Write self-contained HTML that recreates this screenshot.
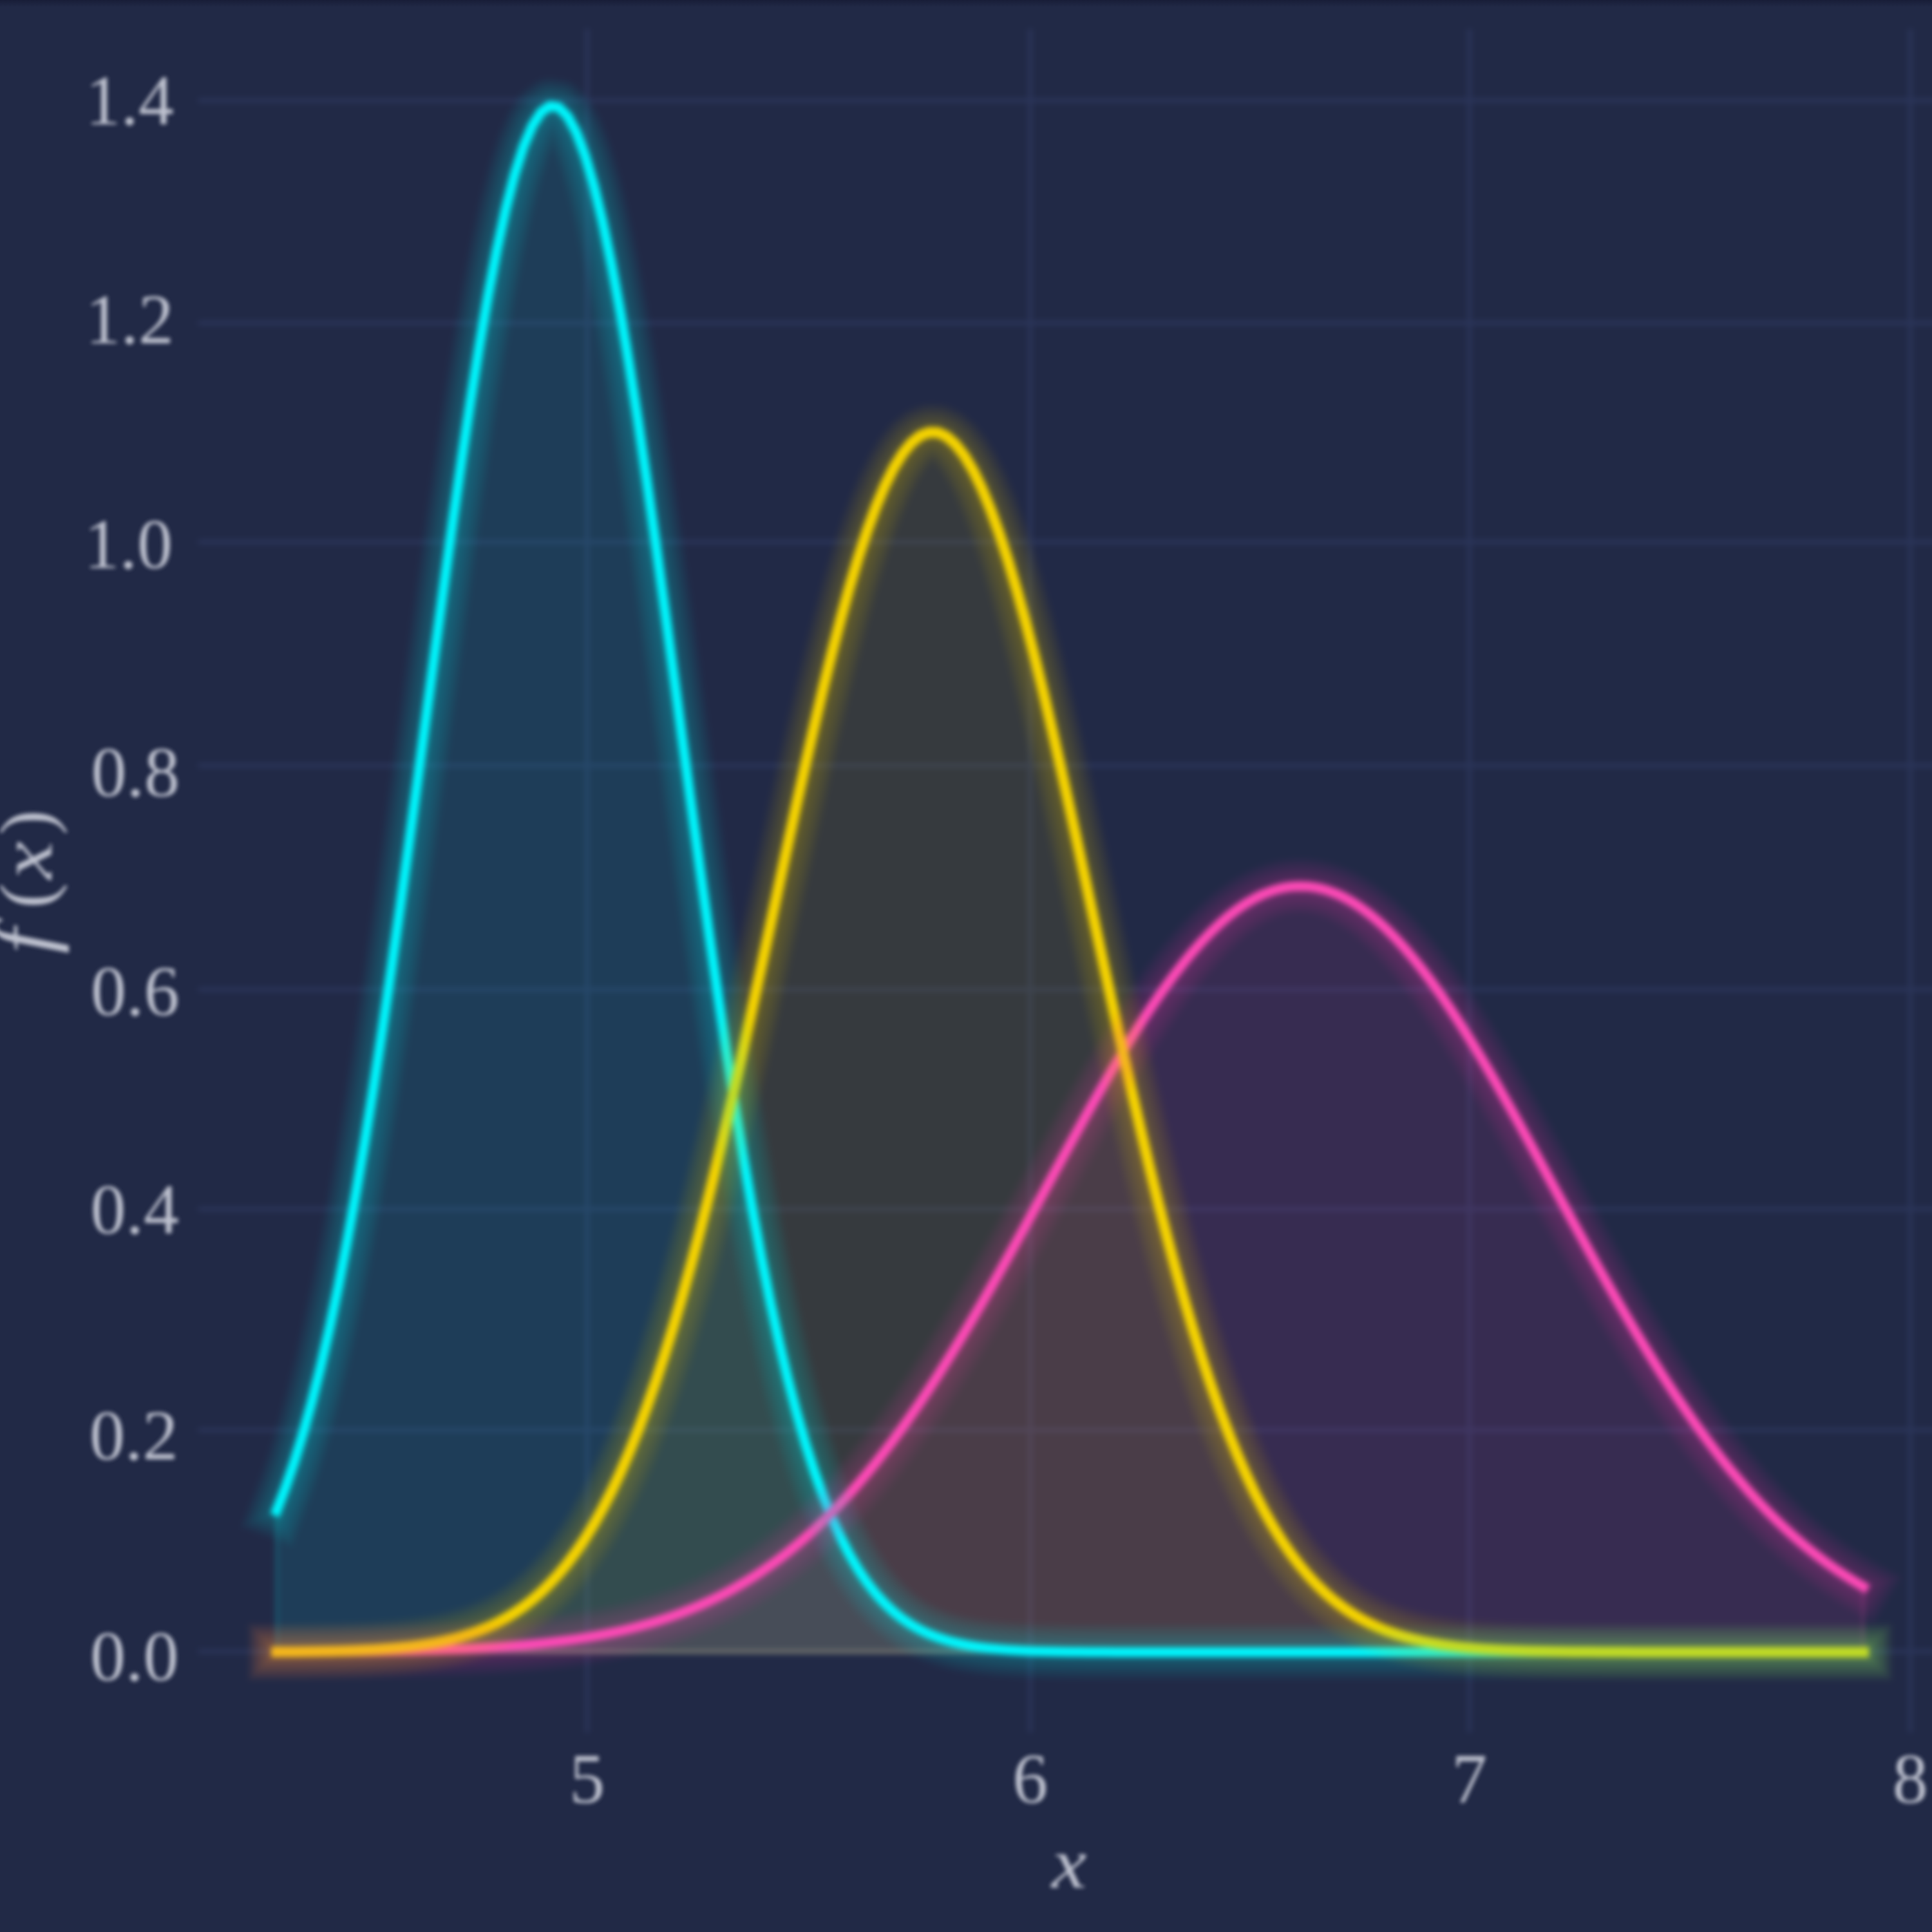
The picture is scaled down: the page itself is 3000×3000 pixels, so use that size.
<!DOCTYPE html>
<html><head><meta charset="utf-8"><title>chart</title>
<style>
html,body{margin:0;padding:0;background:#212946;}
body{width:3000px;height:3000px;overflow:hidden;position:relative;font-family:"Liberation Serif",serif;}
svg{position:absolute;left:0;top:0;display:block;}
text{font-family:"Liberation Serif",serif;fill:#cdd0dc;}
</style></head><body>
<svg width="3000" height="3000" viewBox="0 0 3000 3000">
<defs>
<filter id="soft" color-interpolation-filters="sRGB" filterUnits="userSpaceOnUse" x="-100" y="-100" width="3200" height="3200"><feGaussianBlur stdDeviation="4" color-interpolation-filters="sRGB"/></filter>
<filter id="softt" color-interpolation-filters="sRGB" filterUnits="userSpaceOnUse" x="-100" y="-100" width="3200" height="3200"><feGaussianBlur stdDeviation="3" color-interpolation-filters="sRGB"/></filter>
<linearGradient id="topband" x1="0" y1="0" x2="0" y2="1"><stop offset="0" stop-color="#171c36" stop-opacity="0.9"/><stop offset="1" stop-color="#171c36" stop-opacity="0"/></linearGradient>

</defs>
<rect x="-100" y="-100" width="3200" height="3200" fill="#212946"/>
<g filter="url(#soft)">
<rect x="-100" y="-100" width="3200" height="3200" fill="#212946"/>
<g stroke="#2a3458" stroke-width="7" fill="none">
<line x1="308" y1="2564.3" x2="3100" y2="2564.3"/>
<line x1="308" y1="2220.4" x2="3100" y2="2220.4"/>
<line x1="308" y1="1877.5" x2="3100" y2="1877.5"/>
<line x1="308" y1="1536.5" x2="3100" y2="1536.5"/>
<line x1="308" y1="1188.7" x2="3100" y2="1188.7"/>
<line x1="308" y1="841.5" x2="3100" y2="841.5"/>
<line x1="308" y1="501.5" x2="3100" y2="501.5"/>
<line x1="308" y1="155.9" x2="3100" y2="155.9"/>
<line x1="911.8" y1="45" x2="911.8" y2="2690"/>
<line x1="1599.7" y1="45" x2="1599.7" y2="2690"/>
<line x1="2281.8" y1="45" x2="2281.8" y2="2690"/>
<line x1="2966.3" y1="45" x2="2966.3" y2="2690"/>
</g>
<path d="M429.4,2346.0 L443.1,2310.4 L456.8,2270.5 L470.5,2225.9 L484.2,2176.6 L497.9,2122.2 L511.6,2062.7 L525.3,1998.0 L538.9,1928.1 L552.6,1853.1 L566.3,1773.1 L580.0,1688.4 L593.7,1599.3 L607.4,1506.4 L621.1,1410.3 L634.8,1311.5 L648.5,1210.9 L662.2,1109.3 L675.9,1007.8 L689.6,907.2 L703.2,808.8 L716.9,713.6 L730.6,622.7 L744.3,537.2 L758.0,458.3 L771.7,387.0 L785.4,324.3 L799.1,270.9 L812.8,227.7 L826.5,195.3 L840.2,174.1 L853.8,164.4 L867.5,166.5 L881.2,180.2 L894.9,205.4 L908.6,241.6 L922.3,288.5 L936.0,345.2 L949.7,411.1 L963.4,485.1 L977.1,566.4 L990.8,653.9 L1004.4,746.5 L1018.1,842.9 L1031.8,942.2 L1045.5,1043.2 L1059.2,1144.9 L1072.9,1246.2 L1086.6,1346.3 L1100.3,1444.3 L1114.0,1539.4 L1127.7,1631.0 L1141.4,1718.5 L1155.1,1801.6 L1168.7,1879.9 L1182.4,1953.2 L1196.1,2021.3 L1209.8,2084.2 L1223.5,2141.8 L1237.2,2194.4 L1250.9,2242.1 L1264.6,2284.9 L1278.3,2323.3 L1292.0,2357.5 L1305.7,2387.7 L1319.3,2414.3 L1333.0,2437.5 L1346.7,2457.7 L1360.4,2475.1 L1374.1,2490.1 L1387.8,2502.9 L1401.5,2513.8 L1415.2,2523.0 L1428.9,2530.7 L1442.6,2537.2 L1456.3,2542.6 L1469.9,2547.0 L1483.6,2550.7 L1497.3,2553.7 L1511.0,2556.1 L1524.7,2558.1 L1538.4,2559.6 L1552.1,2560.9 L1565.8,2561.9 L1579.5,2562.7 L1593.2,2563.4 L1606.9,2563.9 L1620.6,2564.2 L1634.2,2564.5 L1647.9,2564.8 L1661.6,2565.0 L1675.3,2565.1 L1689.0,2565.2 L1702.7,2565.3 L1716.4,2565.3 L1730.1,2565.4 L1743.8,2565.4 L1757.5,2565.4 L1771.2,2565.5 L1784.8,2565.5 L1798.5,2565.5 L1812.2,2565.5 L1825.9,2565.5 L1839.6,2565.5 L1853.3,2565.5 L1867.0,2565.5 L1880.7,2565.5 L1894.4,2565.5 L1908.1,2565.5 L1921.8,2565.5 L1935.5,2565.5 L1949.1,2565.5 L1962.8,2565.5 L1976.5,2565.5 L1990.2,2565.5 L2003.9,2565.5 L2017.6,2565.5 L2031.3,2565.5 L2045.0,2565.5 L2058.7,2565.5 L2072.4,2565.5 L2086.1,2565.5 L2099.7,2565.5 L2113.4,2565.5 L2127.1,2565.5 L2140.8,2565.5 L2154.5,2565.5 L2168.2,2565.5 L2181.9,2565.5 L2195.6,2565.5 L2209.3,2565.5 L2223.0,2565.5 L2236.7,2565.5 L2250.3,2565.5 L2264.0,2565.5 L2277.7,2565.5 L2291.4,2565.5 L2305.1,2565.5 L2318.8,2565.5 L2332.5,2565.5 L2346.2,2565.5 L2359.9,2565.5 L2373.6,2565.5 L2387.3,2565.5 L2401.0,2565.5 L2414.6,2565.5 L2428.3,2565.5 L2442.0,2565.5 L2455.7,2565.5 L2469.4,2565.5 L2483.1,2565.5 L2496.8,2565.5 L2510.5,2565.5 L2524.2,2565.5 L2537.9,2565.5 L2551.6,2565.5 L2565.2,2565.5 L2578.9,2565.5 L2592.6,2565.5 L2606.3,2565.5 L2620.0,2565.5 L2633.7,2565.5 L2647.4,2565.5 L2661.1,2565.5 L2674.8,2565.5 L2688.5,2565.5 L2702.2,2565.5 L2715.8,2565.5 L2729.5,2565.5 L2743.2,2565.5 L2756.9,2565.5 L2770.6,2565.5 L2784.3,2565.5 L2798.0,2565.5 L2811.7,2565.5 L2825.4,2565.5 L2839.1,2565.5 L2852.8,2565.5 L2866.5,2565.5 L2880.1,2565.5 L2893.8,2565.5 L2893.8,2565.5 L429.4,2565.5 Z" fill="#08F7FE" fill-opacity="0.1" stroke="#08F7FE" stroke-opacity="0.13" stroke-width="7"/>
<path d="M429.4,2565.1 L443.1,2565.1 L456.8,2565.0 L470.5,2565.0 L484.2,2564.9 L497.9,2564.8 L511.6,2564.7 L525.3,2564.6 L538.9,2564.5 L552.6,2564.3 L566.3,2564.2 L580.0,2564.0 L593.7,2563.8 L607.4,2563.5 L621.1,2563.3 L634.8,2563.0 L648.5,2562.7 L662.2,2562.3 L675.9,2561.9 L689.6,2561.5 L703.2,2561.0 L716.9,2560.4 L730.6,2559.8 L744.3,2559.1 L758.0,2558.3 L771.7,2557.5 L785.4,2556.6 L799.1,2555.6 L812.8,2554.5 L826.5,2553.2 L840.2,2551.9 L853.8,2550.4 L867.5,2548.8 L881.2,2547.0 L894.9,2545.1 L908.6,2542.9 L922.3,2540.6 L936.0,2538.1 L949.7,2535.4 L963.4,2532.5 L977.1,2529.3 L990.8,2525.8 L1004.4,2522.1 L1018.1,2518.0 L1031.8,2513.7 L1045.5,2509.0 L1059.2,2504.0 L1072.9,2498.6 L1086.6,2492.9 L1100.3,2486.7 L1114.0,2480.1 L1127.7,2473.1 L1141.4,2465.6 L1155.1,2457.6 L1168.7,2449.2 L1182.4,2440.2 L1196.1,2430.7 L1209.8,2420.7 L1223.5,2410.1 L1237.2,2398.9 L1250.9,2387.1 L1264.6,2374.8 L1278.3,2361.8 L1292.0,2348.2 L1305.7,2333.9 L1319.3,2319.1 L1333.0,2303.6 L1346.7,2287.4 L1360.4,2270.7 L1374.1,2253.2 L1387.8,2235.2 L1401.5,2216.5 L1415.2,2197.2 L1428.9,2177.4 L1442.6,2156.9 L1456.3,2135.9 L1469.9,2114.3 L1483.6,2092.3 L1497.3,2069.7 L1511.0,2046.7 L1524.7,2023.3 L1538.4,1999.5 L1552.1,1975.4 L1565.8,1951.0 L1579.5,1926.4 L1593.2,1901.6 L1606.9,1876.6 L1620.6,1851.6 L1634.2,1826.5 L1647.9,1801.5 L1661.6,1776.6 L1675.3,1751.9 L1689.0,1727.4 L1702.7,1703.2 L1716.4,1679.4 L1730.1,1656.0 L1743.8,1633.1 L1757.5,1610.8 L1771.2,1589.1 L1784.8,1568.2 L1798.5,1548.0 L1812.2,1528.7 L1825.9,1510.3 L1839.6,1492.8 L1853.3,1476.4 L1867.0,1461.1 L1880.7,1446.9 L1894.4,1433.8 L1908.1,1422.0 L1921.8,1411.5 L1935.5,1402.3 L1949.1,1394.4 L1962.8,1387.9 L1976.5,1382.7 L1990.2,1379.0 L2003.9,1376.7 L2017.6,1375.9 L2031.3,1376.4 L2045.0,1378.4 L2058.7,1381.8 L2072.4,1386.7 L2086.1,1392.9 L2099.7,1400.5 L2113.4,1409.5 L2127.1,1419.7 L2140.8,1431.3 L2154.5,1444.0 L2168.2,1458.0 L2181.9,1473.1 L2195.6,1489.3 L2209.3,1506.5 L2223.0,1524.8 L2236.7,1543.9 L2250.3,1563.9 L2264.0,1584.7 L2277.7,1606.2 L2291.4,1628.4 L2305.1,1651.1 L2318.8,1674.4 L2332.5,1698.2 L2346.2,1722.3 L2359.9,1746.7 L2373.6,1771.4 L2387.3,1796.3 L2401.0,1821.3 L2414.6,1846.3 L2428.3,1871.4 L2442.0,1896.3 L2455.7,1921.2 L2469.4,1945.9 L2483.1,1970.3 L2496.8,1994.5 L2510.5,2018.4 L2524.2,2041.8 L2537.9,2064.9 L2551.6,2087.6 L2565.2,2109.7 L2578.9,2131.4 L2592.6,2152.5 L2606.3,2173.1 L2620.0,2193.1 L2633.7,2212.5 L2647.4,2231.3 L2661.1,2249.5 L2674.8,2267.1 L2688.5,2284.0 L2702.2,2300.2 L2715.8,2315.9 L2729.5,2330.9 L2743.2,2345.2 L2756.9,2359.0 L2770.6,2372.1 L2784.3,2384.6 L2798.0,2396.5 L2811.7,2407.8 L2825.4,2418.5 L2839.1,2428.7 L2852.8,2438.3 L2866.5,2447.3 L2880.1,2455.9 L2893.8,2464.0 L2893.8,2565.5 L429.4,2565.5 Z" fill="#FE53BB" fill-opacity="0.1" stroke="#FE53BB" stroke-opacity="0.13" stroke-width="7"/>
<path d="M429.4,2565.1 L443.1,2565.0 L456.8,2564.9 L470.5,2564.7 L484.2,2564.5 L497.9,2564.3 L511.6,2564.0 L525.3,2563.7 L538.9,2563.2 L552.6,2562.7 L566.3,2562.1 L580.0,2561.4 L593.7,2560.5 L607.4,2559.5 L621.1,2558.3 L634.8,2556.9 L648.5,2555.1 L662.2,2553.1 L675.9,2550.8 L689.6,2548.1 L703.2,2544.9 L716.9,2541.2 L730.6,2536.9 L744.3,2532.0 L758.0,2526.4 L771.7,2520.0 L785.4,2512.6 L799.1,2504.3 L812.8,2494.9 L826.5,2484.2 L840.2,2472.3 L853.8,2458.9 L867.5,2444.0 L881.2,2427.4 L894.9,2409.0 L908.6,2388.8 L922.3,2366.5 L936.0,2342.0 L949.7,2315.4 L963.4,2286.4 L977.1,2255.0 L990.8,2221.1 L1004.4,2184.7 L1018.1,2145.7 L1031.8,2104.2 L1045.5,2060.0 L1059.2,2013.4 L1072.9,1964.3 L1086.6,1912.8 L1100.3,1859.0 L1114.0,1803.2 L1127.7,1745.4 L1141.4,1686.0 L1155.1,1625.1 L1168.7,1563.1 L1182.4,1500.2 L1196.1,1436.9 L1209.8,1373.4 L1223.5,1310.2 L1237.2,1247.6 L1250.9,1186.2 L1264.6,1126.3 L1278.3,1068.4 L1292.0,1012.9 L1305.7,960.3 L1319.3,910.9 L1333.0,865.2 L1346.7,823.6 L1360.4,786.3 L1374.1,753.9 L1387.8,726.4 L1401.5,704.3 L1415.2,687.6 L1428.9,676.5 L1442.6,671.2 L1456.3,671.6 L1469.9,677.8 L1483.6,689.7 L1497.3,707.3 L1511.0,730.2 L1524.7,758.4 L1538.4,791.6 L1552.1,829.5 L1565.8,871.8 L1579.5,918.1 L1593.2,968.0 L1606.9,1021.1 L1620.6,1077.0 L1634.2,1135.2 L1647.9,1195.3 L1661.6,1257.0 L1675.3,1319.6 L1689.0,1382.9 L1702.7,1446.4 L1716.4,1509.7 L1730.1,1572.4 L1743.8,1634.3 L1757.5,1695.0 L1771.2,1754.2 L1784.8,1811.7 L1798.5,1867.2 L1812.2,1920.6 L1825.9,1971.8 L1839.6,2020.5 L1853.3,2066.8 L1867.0,2110.6 L1880.7,2151.7 L1894.4,2190.3 L1908.1,2226.4 L1921.8,2259.9 L1935.5,2290.9 L1949.1,2319.5 L1962.8,2345.8 L1976.5,2369.9 L1990.2,2391.9 L2003.9,2411.9 L2017.6,2430.0 L2031.3,2446.3 L2045.0,2461.0 L2058.7,2474.2 L2072.4,2485.9 L2086.1,2496.4 L2099.7,2505.6 L2113.4,2513.8 L2127.1,2521.0 L2140.8,2527.3 L2154.5,2532.8 L2168.2,2537.6 L2181.9,2541.8 L2195.6,2545.4 L2209.3,2548.5 L2223.0,2551.2 L2236.7,2553.5 L2250.3,2555.4 L2264.0,2557.1 L2277.7,2558.5 L2291.4,2559.7 L2305.1,2560.7 L2318.8,2561.5 L2332.5,2562.2 L2346.2,2562.8 L2359.9,2563.3 L2373.6,2563.7 L2387.3,2564.1 L2401.0,2564.3 L2414.6,2564.6 L2428.3,2564.7 L2442.0,2564.9 L2455.7,2565.0 L2469.4,2565.1 L2483.1,2565.2 L2496.8,2565.3 L2510.5,2565.3 L2524.2,2565.3 L2537.9,2565.4 L2551.6,2565.4 L2565.2,2565.4 L2578.9,2565.4 L2592.6,2565.5 L2606.3,2565.5 L2620.0,2565.5 L2633.7,2565.5 L2647.4,2565.5 L2661.1,2565.5 L2674.8,2565.5 L2688.5,2565.5 L2702.2,2565.5 L2715.8,2565.5 L2729.5,2565.5 L2743.2,2565.5 L2756.9,2565.5 L2770.6,2565.5 L2784.3,2565.5 L2798.0,2565.5 L2811.7,2565.5 L2825.4,2565.5 L2839.1,2565.5 L2852.8,2565.5 L2866.5,2565.5 L2880.1,2565.5 L2893.8,2565.5 L2893.8,2565.5 L429.4,2565.5 Z" fill="#F5D300" fill-opacity="0.1" stroke="#F5D300" stroke-opacity="0.13" stroke-width="7"/>
<path d="M429.4,2346.0 L443.1,2310.4 L456.8,2270.5 L470.5,2225.9 L484.2,2176.6 L497.9,2122.2 L511.6,2062.7 L525.3,1998.0 L538.9,1928.1 L552.6,1853.1 L566.3,1773.1 L580.0,1688.4 L593.7,1599.3 L607.4,1506.4 L621.1,1410.3 L634.8,1311.5 L648.5,1210.9 L662.2,1109.3 L675.9,1007.8 L689.6,907.2 L703.2,808.8 L716.9,713.6 L730.6,622.7 L744.3,537.2 L758.0,458.3 L771.7,387.0 L785.4,324.3 L799.1,270.9 L812.8,227.7 L826.5,195.3 L840.2,174.1 L853.8,164.4 L867.5,166.5 L881.2,180.2 L894.9,205.4 L908.6,241.6 L922.3,288.5 L936.0,345.2 L949.7,411.1 L963.4,485.1 L977.1,566.4 L990.8,653.9 L1004.4,746.5 L1018.1,842.9 L1031.8,942.2 L1045.5,1043.2 L1059.2,1144.9 L1072.9,1246.2 L1086.6,1346.3 L1100.3,1444.3 L1114.0,1539.4 L1127.7,1631.0 L1141.4,1718.5 L1155.1,1801.6 L1168.7,1879.9 L1182.4,1953.2 L1196.1,2021.3 L1209.8,2084.2 L1223.5,2141.8 L1237.2,2194.4 L1250.9,2242.1 L1264.6,2284.9 L1278.3,2323.3 L1292.0,2357.5 L1305.7,2387.7 L1319.3,2414.3 L1333.0,2437.5 L1346.7,2457.7 L1360.4,2475.1 L1374.1,2490.1 L1387.8,2502.9 L1401.5,2513.8 L1415.2,2523.0 L1428.9,2530.7 L1442.6,2537.2 L1456.3,2542.6 L1469.9,2547.0 L1483.6,2550.7 L1497.3,2553.7 L1511.0,2556.1 L1524.7,2558.1 L1538.4,2559.6 L1552.1,2560.9 L1565.8,2561.9 L1579.5,2562.7 L1593.2,2563.4 L1606.9,2563.9 L1620.6,2564.2 L1634.2,2564.5 L1647.9,2564.8 L1661.6,2565.0 L1675.3,2565.1 L1689.0,2565.2 L1702.7,2565.3 L1716.4,2565.3 L1730.1,2565.4 L1743.8,2565.4 L1757.5,2565.4 L1771.2,2565.5 L1784.8,2565.5 L1798.5,2565.5 L1812.2,2565.5 L1825.9,2565.5 L1839.6,2565.5 L1853.3,2565.5 L1867.0,2565.5 L1880.7,2565.5 L1894.4,2565.5 L1908.1,2565.5 L1921.8,2565.5 L1935.5,2565.5 L1949.1,2565.5 L1962.8,2565.5 L1976.5,2565.5 L1990.2,2565.5 L2003.9,2565.5 L2017.6,2565.5 L2031.3,2565.5 L2045.0,2565.5 L2058.7,2565.5 L2072.4,2565.5 L2086.1,2565.5 L2099.7,2565.5 L2113.4,2565.5 L2127.1,2565.5 L2140.8,2565.5 L2154.5,2565.5 L2168.2,2565.5 L2181.9,2565.5 L2195.6,2565.5 L2209.3,2565.5 L2223.0,2565.5 L2236.7,2565.5 L2250.3,2565.5 L2264.0,2565.5 L2277.7,2565.5 L2291.4,2565.5 L2305.1,2565.5 L2318.8,2565.5 L2332.5,2565.5 L2346.2,2565.5 L2359.9,2565.5 L2373.6,2565.5 L2387.3,2565.5 L2401.0,2565.5 L2414.6,2565.5 L2428.3,2565.5 L2442.0,2565.5 L2455.7,2565.5 L2469.4,2565.5 L2483.1,2565.5 L2496.8,2565.5 L2510.5,2565.5 L2524.2,2565.5 L2537.9,2565.5 L2551.6,2565.5 L2565.2,2565.5 L2578.9,2565.5 L2592.6,2565.5 L2606.3,2565.5 L2620.0,2565.5 L2633.7,2565.5 L2647.4,2565.5 L2661.1,2565.5 L2674.8,2565.5 L2688.5,2565.5 L2702.2,2565.5 L2715.8,2565.5 L2729.5,2565.5 L2743.2,2565.5 L2756.9,2565.5 L2770.6,2565.5 L2784.3,2565.5 L2798.0,2565.5 L2811.7,2565.5 L2825.4,2565.5 L2839.1,2565.5 L2852.8,2565.5 L2866.5,2565.5 L2880.1,2565.5 L2893.8,2565.5" fill="none" stroke="#08F7FE" stroke-width="15.0" stroke-linecap="square" stroke-linejoin="round"/>
<path d="M429.4,2565.1 L443.1,2565.1 L456.8,2565.0 L470.5,2565.0 L484.2,2564.9 L497.9,2564.8 L511.6,2564.7 L525.3,2564.6 L538.9,2564.5 L552.6,2564.3 L566.3,2564.2 L580.0,2564.0 L593.7,2563.8 L607.4,2563.5 L621.1,2563.3 L634.8,2563.0 L648.5,2562.7 L662.2,2562.3 L675.9,2561.9 L689.6,2561.5 L703.2,2561.0 L716.9,2560.4 L730.6,2559.8 L744.3,2559.1 L758.0,2558.3 L771.7,2557.5 L785.4,2556.6 L799.1,2555.6 L812.8,2554.5 L826.5,2553.2 L840.2,2551.9 L853.8,2550.4 L867.5,2548.8 L881.2,2547.0 L894.9,2545.1 L908.6,2542.9 L922.3,2540.6 L936.0,2538.1 L949.7,2535.4 L963.4,2532.5 L977.1,2529.3 L990.8,2525.8 L1004.4,2522.1 L1018.1,2518.0 L1031.8,2513.7 L1045.5,2509.0 L1059.2,2504.0 L1072.9,2498.6 L1086.6,2492.9 L1100.3,2486.7 L1114.0,2480.1 L1127.7,2473.1 L1141.4,2465.6 L1155.1,2457.6 L1168.7,2449.2 L1182.4,2440.2 L1196.1,2430.7 L1209.8,2420.7 L1223.5,2410.1 L1237.2,2398.9 L1250.9,2387.1 L1264.6,2374.8 L1278.3,2361.8 L1292.0,2348.2 L1305.7,2333.9 L1319.3,2319.1 L1333.0,2303.6 L1346.7,2287.4 L1360.4,2270.7 L1374.1,2253.2 L1387.8,2235.2 L1401.5,2216.5 L1415.2,2197.2 L1428.9,2177.4 L1442.6,2156.9 L1456.3,2135.9 L1469.9,2114.3 L1483.6,2092.3 L1497.3,2069.7 L1511.0,2046.7 L1524.7,2023.3 L1538.4,1999.5 L1552.1,1975.4 L1565.8,1951.0 L1579.5,1926.4 L1593.2,1901.6 L1606.9,1876.6 L1620.6,1851.6 L1634.2,1826.5 L1647.9,1801.5 L1661.6,1776.6 L1675.3,1751.9 L1689.0,1727.4 L1702.7,1703.2 L1716.4,1679.4 L1730.1,1656.0 L1743.8,1633.1 L1757.5,1610.8 L1771.2,1589.1 L1784.8,1568.2 L1798.5,1548.0 L1812.2,1528.7 L1825.9,1510.3 L1839.6,1492.8 L1853.3,1476.4 L1867.0,1461.1 L1880.7,1446.9 L1894.4,1433.8 L1908.1,1422.0 L1921.8,1411.5 L1935.5,1402.3 L1949.1,1394.4 L1962.8,1387.9 L1976.5,1382.7 L1990.2,1379.0 L2003.9,1376.7 L2017.6,1375.9 L2031.3,1376.4 L2045.0,1378.4 L2058.7,1381.8 L2072.4,1386.7 L2086.1,1392.9 L2099.7,1400.5 L2113.4,1409.5 L2127.1,1419.7 L2140.8,1431.3 L2154.5,1444.0 L2168.2,1458.0 L2181.9,1473.1 L2195.6,1489.3 L2209.3,1506.5 L2223.0,1524.8 L2236.7,1543.9 L2250.3,1563.9 L2264.0,1584.7 L2277.7,1606.2 L2291.4,1628.4 L2305.1,1651.1 L2318.8,1674.4 L2332.5,1698.2 L2346.2,1722.3 L2359.9,1746.7 L2373.6,1771.4 L2387.3,1796.3 L2401.0,1821.3 L2414.6,1846.3 L2428.3,1871.4 L2442.0,1896.3 L2455.7,1921.2 L2469.4,1945.9 L2483.1,1970.3 L2496.8,1994.5 L2510.5,2018.4 L2524.2,2041.8 L2537.9,2064.9 L2551.6,2087.6 L2565.2,2109.7 L2578.9,2131.4 L2592.6,2152.5 L2606.3,2173.1 L2620.0,2193.1 L2633.7,2212.5 L2647.4,2231.3 L2661.1,2249.5 L2674.8,2267.1 L2688.5,2284.0 L2702.2,2300.2 L2715.8,2315.9 L2729.5,2330.9 L2743.2,2345.2 L2756.9,2359.0 L2770.6,2372.1 L2784.3,2384.6 L2798.0,2396.5 L2811.7,2407.8 L2825.4,2418.5 L2839.1,2428.7 L2852.8,2438.3 L2866.5,2447.3 L2880.1,2455.9 L2893.8,2464.0" fill="none" stroke="#FE53BB" stroke-width="15.0" stroke-linecap="square" stroke-linejoin="round"/>
<path d="M429.4,2565.1 L443.1,2565.0 L456.8,2564.9 L470.5,2564.7 L484.2,2564.5 L497.9,2564.3 L511.6,2564.0 L525.3,2563.7 L538.9,2563.2 L552.6,2562.7 L566.3,2562.1 L580.0,2561.4 L593.7,2560.5 L607.4,2559.5 L621.1,2558.3 L634.8,2556.9 L648.5,2555.1 L662.2,2553.1 L675.9,2550.8 L689.6,2548.1 L703.2,2544.9 L716.9,2541.2 L730.6,2536.9 L744.3,2532.0 L758.0,2526.4 L771.7,2520.0 L785.4,2512.6 L799.1,2504.3 L812.8,2494.9 L826.5,2484.2 L840.2,2472.3 L853.8,2458.9 L867.5,2444.0 L881.2,2427.4 L894.9,2409.0 L908.6,2388.8 L922.3,2366.5 L936.0,2342.0 L949.7,2315.4 L963.4,2286.4 L977.1,2255.0 L990.8,2221.1 L1004.4,2184.7 L1018.1,2145.7 L1031.8,2104.2 L1045.5,2060.0 L1059.2,2013.4 L1072.9,1964.3 L1086.6,1912.8 L1100.3,1859.0 L1114.0,1803.2 L1127.7,1745.4 L1141.4,1686.0 L1155.1,1625.1 L1168.7,1563.1 L1182.4,1500.2 L1196.1,1436.9 L1209.8,1373.4 L1223.5,1310.2 L1237.2,1247.6 L1250.9,1186.2 L1264.6,1126.3 L1278.3,1068.4 L1292.0,1012.9 L1305.7,960.3 L1319.3,910.9 L1333.0,865.2 L1346.7,823.6 L1360.4,786.3 L1374.1,753.9 L1387.8,726.4 L1401.5,704.3 L1415.2,687.6 L1428.9,676.5 L1442.6,671.2 L1456.3,671.6 L1469.9,677.8 L1483.6,689.7 L1497.3,707.3 L1511.0,730.2 L1524.7,758.4 L1538.4,791.6 L1552.1,829.5 L1565.8,871.8 L1579.5,918.1 L1593.2,968.0 L1606.9,1021.1 L1620.6,1077.0 L1634.2,1135.2 L1647.9,1195.3 L1661.6,1257.0 L1675.3,1319.6 L1689.0,1382.9 L1702.7,1446.4 L1716.4,1509.7 L1730.1,1572.4 L1743.8,1634.3 L1757.5,1695.0 L1771.2,1754.2 L1784.8,1811.7 L1798.5,1867.2 L1812.2,1920.6 L1825.9,1971.8 L1839.6,2020.5 L1853.3,2066.8 L1867.0,2110.6 L1880.7,2151.7 L1894.4,2190.3 L1908.1,2226.4 L1921.8,2259.9 L1935.5,2290.9 L1949.1,2319.5 L1962.8,2345.8 L1976.5,2369.9 L1990.2,2391.9 L2003.9,2411.9 L2017.6,2430.0 L2031.3,2446.3 L2045.0,2461.0 L2058.7,2474.2 L2072.4,2485.9 L2086.1,2496.4 L2099.7,2505.6 L2113.4,2513.8 L2127.1,2521.0 L2140.8,2527.3 L2154.5,2532.8 L2168.2,2537.6 L2181.9,2541.8 L2195.6,2545.4 L2209.3,2548.5 L2223.0,2551.2 L2236.7,2553.5 L2250.3,2555.4 L2264.0,2557.1 L2277.7,2558.5 L2291.4,2559.7 L2305.1,2560.7 L2318.8,2561.5 L2332.5,2562.2 L2346.2,2562.8 L2359.9,2563.3 L2373.6,2563.7 L2387.3,2564.1 L2401.0,2564.3 L2414.6,2564.6 L2428.3,2564.7 L2442.0,2564.9 L2455.7,2565.0 L2469.4,2565.1 L2483.1,2565.2 L2496.8,2565.3 L2510.5,2565.3 L2524.2,2565.3 L2537.9,2565.4 L2551.6,2565.4 L2565.2,2565.4 L2578.9,2565.4 L2592.6,2565.5 L2606.3,2565.5 L2620.0,2565.5 L2633.7,2565.5 L2647.4,2565.5 L2661.1,2565.5 L2674.8,2565.5 L2688.5,2565.5 L2702.2,2565.5 L2715.8,2565.5 L2729.5,2565.5 L2743.2,2565.5 L2756.9,2565.5 L2770.6,2565.5 L2784.3,2565.5 L2798.0,2565.5 L2811.7,2565.5 L2825.4,2565.5 L2839.1,2565.5 L2852.8,2565.5 L2866.5,2565.5 L2880.1,2565.5 L2893.8,2565.5" fill="none" stroke="#F5D300" stroke-width="16.5" stroke-linecap="square" stroke-linejoin="round"/>
<path d="M429.4,2346.0 L443.1,2310.4 L456.8,2270.5 L470.5,2225.9 L484.2,2176.6 L497.9,2122.2 L511.6,2062.7 L525.3,1998.0 L538.9,1928.1 L552.6,1853.1 L566.3,1773.1 L580.0,1688.4 L593.7,1599.3 L607.4,1506.4 L621.1,1410.3 L634.8,1311.5 L648.5,1210.9 L662.2,1109.3 L675.9,1007.8 L689.6,907.2 L703.2,808.8 L716.9,713.6 L730.6,622.7 L744.3,537.2 L758.0,458.3 L771.7,387.0 L785.4,324.3 L799.1,270.9 L812.8,227.7 L826.5,195.3 L840.2,174.1 L853.8,164.4 L867.5,166.5 L881.2,180.2 L894.9,205.4 L908.6,241.6 L922.3,288.5 L936.0,345.2 L949.7,411.1 L963.4,485.1 L977.1,566.4 L990.8,653.9 L1004.4,746.5 L1018.1,842.9 L1031.8,942.2 L1045.5,1043.2 L1059.2,1144.9 L1072.9,1246.2 L1086.6,1346.3 L1100.3,1444.3 L1114.0,1539.4 L1127.7,1631.0 L1141.4,1718.5 L1155.1,1801.6 L1168.7,1879.9 L1182.4,1953.2 L1196.1,2021.3 L1209.8,2084.2 L1223.5,2141.8 L1237.2,2194.4 L1250.9,2242.1 L1264.6,2284.9 L1278.3,2323.3 L1292.0,2357.5 L1305.7,2387.7 L1319.3,2414.3 L1333.0,2437.5 L1346.7,2457.7 L1360.4,2475.1 L1374.1,2490.1 L1387.8,2502.9 L1401.5,2513.8 L1415.2,2523.0 L1428.9,2530.7 L1442.6,2537.2 L1456.3,2542.6 L1469.9,2547.0 L1483.6,2550.7 L1497.3,2553.7 L1511.0,2556.1 L1524.7,2558.1 L1538.4,2559.6 L1552.1,2560.9 L1565.8,2561.9 L1579.5,2562.7 L1593.2,2563.4 L1606.9,2563.9 L1620.6,2564.2 L1634.2,2564.5 L1647.9,2564.8 L1661.6,2565.0 L1675.3,2565.1 L1689.0,2565.2 L1702.7,2565.3 L1716.4,2565.3 L1730.1,2565.4 L1743.8,2565.4 L1757.5,2565.4 L1771.2,2565.5 L1784.8,2565.5 L1798.5,2565.5 L1812.2,2565.5 L1825.9,2565.5 L1839.6,2565.5 L1853.3,2565.5 L1867.0,2565.5 L1880.7,2565.5 L1894.4,2565.5 L1908.1,2565.5 L1921.8,2565.5 L1935.5,2565.5 L1949.1,2565.5 L1962.8,2565.5 L1976.5,2565.5 L1990.2,2565.5 L2003.9,2565.5 L2017.6,2565.5 L2031.3,2565.5 L2045.0,2565.5 L2058.7,2565.5 L2072.4,2565.5 L2086.1,2565.5 L2099.7,2565.5 L2113.4,2565.5 L2127.1,2565.5 L2140.8,2565.5 L2154.5,2565.5 L2168.2,2565.5 L2181.9,2565.5 L2195.6,2565.5 L2209.3,2565.5 L2223.0,2565.5 L2236.7,2565.5 L2250.3,2565.5 L2264.0,2565.5 L2277.7,2565.5 L2291.4,2565.5 L2305.1,2565.5 L2318.8,2565.5 L2332.5,2565.5 L2346.2,2565.5 L2359.9,2565.5 L2373.6,2565.5 L2387.3,2565.5 L2401.0,2565.5 L2414.6,2565.5 L2428.3,2565.5 L2442.0,2565.5 L2455.7,2565.5 L2469.4,2565.5 L2483.1,2565.5 L2496.8,2565.5 L2510.5,2565.5 L2524.2,2565.5 L2537.9,2565.5 L2551.6,2565.5 L2565.2,2565.5 L2578.9,2565.5 L2592.6,2565.5 L2606.3,2565.5 L2620.0,2565.5 L2633.7,2565.5 L2647.4,2565.5 L2661.1,2565.5 L2674.8,2565.5 L2688.5,2565.5 L2702.2,2565.5 L2715.8,2565.5 L2729.5,2565.5 L2743.2,2565.5 L2756.9,2565.5 L2770.6,2565.5 L2784.3,2565.5 L2798.0,2565.5 L2811.7,2565.5 L2825.4,2565.5 L2839.1,2565.5 L2852.8,2565.5 L2866.5,2565.5 L2880.1,2565.5 L2893.8,2565.5" fill="none" stroke="#08F7FE" stroke-opacity="0.027" stroke-width="22.35" stroke-linecap="square" stroke-linejoin="round"/>
<path d="M429.4,2346.0 L443.1,2310.4 L456.8,2270.5 L470.5,2225.9 L484.2,2176.6 L497.9,2122.2 L511.6,2062.7 L525.3,1998.0 L538.9,1928.1 L552.6,1853.1 L566.3,1773.1 L580.0,1688.4 L593.7,1599.3 L607.4,1506.4 L621.1,1410.3 L634.8,1311.5 L648.5,1210.9 L662.2,1109.3 L675.9,1007.8 L689.6,907.2 L703.2,808.8 L716.9,713.6 L730.6,622.7 L744.3,537.2 L758.0,458.3 L771.7,387.0 L785.4,324.3 L799.1,270.9 L812.8,227.7 L826.5,195.3 L840.2,174.1 L853.8,164.4 L867.5,166.5 L881.2,180.2 L894.9,205.4 L908.6,241.6 L922.3,288.5 L936.0,345.2 L949.7,411.1 L963.4,485.1 L977.1,566.4 L990.8,653.9 L1004.4,746.5 L1018.1,842.9 L1031.8,942.2 L1045.5,1043.2 L1059.2,1144.9 L1072.9,1246.2 L1086.6,1346.3 L1100.3,1444.3 L1114.0,1539.4 L1127.7,1631.0 L1141.4,1718.5 L1155.1,1801.6 L1168.7,1879.9 L1182.4,1953.2 L1196.1,2021.3 L1209.8,2084.2 L1223.5,2141.8 L1237.2,2194.4 L1250.9,2242.1 L1264.6,2284.9 L1278.3,2323.3 L1292.0,2357.5 L1305.7,2387.7 L1319.3,2414.3 L1333.0,2437.5 L1346.7,2457.7 L1360.4,2475.1 L1374.1,2490.1 L1387.8,2502.9 L1401.5,2513.8 L1415.2,2523.0 L1428.9,2530.7 L1442.6,2537.2 L1456.3,2542.6 L1469.9,2547.0 L1483.6,2550.7 L1497.3,2553.7 L1511.0,2556.1 L1524.7,2558.1 L1538.4,2559.6 L1552.1,2560.9 L1565.8,2561.9 L1579.5,2562.7 L1593.2,2563.4 L1606.9,2563.9 L1620.6,2564.2 L1634.2,2564.5 L1647.9,2564.8 L1661.6,2565.0 L1675.3,2565.1 L1689.0,2565.2 L1702.7,2565.3 L1716.4,2565.3 L1730.1,2565.4 L1743.8,2565.4 L1757.5,2565.4 L1771.2,2565.5 L1784.8,2565.5 L1798.5,2565.5 L1812.2,2565.5 L1825.9,2565.5 L1839.6,2565.5 L1853.3,2565.5 L1867.0,2565.5 L1880.7,2565.5 L1894.4,2565.5 L1908.1,2565.5 L1921.8,2565.5 L1935.5,2565.5 L1949.1,2565.5 L1962.8,2565.5 L1976.5,2565.5 L1990.2,2565.5 L2003.9,2565.5 L2017.6,2565.5 L2031.3,2565.5 L2045.0,2565.5 L2058.7,2565.5 L2072.4,2565.5 L2086.1,2565.5 L2099.7,2565.5 L2113.4,2565.5 L2127.1,2565.5 L2140.8,2565.5 L2154.5,2565.5 L2168.2,2565.5 L2181.9,2565.5 L2195.6,2565.5 L2209.3,2565.5 L2223.0,2565.5 L2236.7,2565.5 L2250.3,2565.5 L2264.0,2565.5 L2277.7,2565.5 L2291.4,2565.5 L2305.1,2565.5 L2318.8,2565.5 L2332.5,2565.5 L2346.2,2565.5 L2359.9,2565.5 L2373.6,2565.5 L2387.3,2565.5 L2401.0,2565.5 L2414.6,2565.5 L2428.3,2565.5 L2442.0,2565.5 L2455.7,2565.5 L2469.4,2565.5 L2483.1,2565.5 L2496.8,2565.5 L2510.5,2565.5 L2524.2,2565.5 L2537.9,2565.5 L2551.6,2565.5 L2565.2,2565.5 L2578.9,2565.5 L2592.6,2565.5 L2606.3,2565.5 L2620.0,2565.5 L2633.7,2565.5 L2647.4,2565.5 L2661.1,2565.5 L2674.8,2565.5 L2688.5,2565.5 L2702.2,2565.5 L2715.8,2565.5 L2729.5,2565.5 L2743.2,2565.5 L2756.9,2565.5 L2770.6,2565.5 L2784.3,2565.5 L2798.0,2565.5 L2811.7,2565.5 L2825.4,2565.5 L2839.1,2565.5 L2852.8,2565.5 L2866.5,2565.5 L2880.1,2565.5 L2893.8,2565.5" fill="none" stroke="#08F7FE" stroke-opacity="0.027" stroke-width="29.70" stroke-linecap="square" stroke-linejoin="round"/>
<path d="M429.4,2346.0 L443.1,2310.4 L456.8,2270.5 L470.5,2225.9 L484.2,2176.6 L497.9,2122.2 L511.6,2062.7 L525.3,1998.0 L538.9,1928.1 L552.6,1853.1 L566.3,1773.1 L580.0,1688.4 L593.7,1599.3 L607.4,1506.4 L621.1,1410.3 L634.8,1311.5 L648.5,1210.9 L662.2,1109.3 L675.9,1007.8 L689.6,907.2 L703.2,808.8 L716.9,713.6 L730.6,622.7 L744.3,537.2 L758.0,458.3 L771.7,387.0 L785.4,324.3 L799.1,270.9 L812.8,227.7 L826.5,195.3 L840.2,174.1 L853.8,164.4 L867.5,166.5 L881.2,180.2 L894.9,205.4 L908.6,241.6 L922.3,288.5 L936.0,345.2 L949.7,411.1 L963.4,485.1 L977.1,566.4 L990.8,653.9 L1004.4,746.5 L1018.1,842.9 L1031.8,942.2 L1045.5,1043.2 L1059.2,1144.9 L1072.9,1246.2 L1086.6,1346.3 L1100.3,1444.3 L1114.0,1539.4 L1127.7,1631.0 L1141.4,1718.5 L1155.1,1801.6 L1168.7,1879.9 L1182.4,1953.2 L1196.1,2021.3 L1209.8,2084.2 L1223.5,2141.8 L1237.2,2194.4 L1250.9,2242.1 L1264.6,2284.9 L1278.3,2323.3 L1292.0,2357.5 L1305.7,2387.7 L1319.3,2414.3 L1333.0,2437.5 L1346.7,2457.7 L1360.4,2475.1 L1374.1,2490.1 L1387.8,2502.9 L1401.5,2513.8 L1415.2,2523.0 L1428.9,2530.7 L1442.6,2537.2 L1456.3,2542.6 L1469.9,2547.0 L1483.6,2550.7 L1497.3,2553.7 L1511.0,2556.1 L1524.7,2558.1 L1538.4,2559.6 L1552.1,2560.9 L1565.8,2561.9 L1579.5,2562.7 L1593.2,2563.4 L1606.9,2563.9 L1620.6,2564.2 L1634.2,2564.5 L1647.9,2564.8 L1661.6,2565.0 L1675.3,2565.1 L1689.0,2565.2 L1702.7,2565.3 L1716.4,2565.3 L1730.1,2565.4 L1743.8,2565.4 L1757.5,2565.4 L1771.2,2565.5 L1784.8,2565.5 L1798.5,2565.5 L1812.2,2565.5 L1825.9,2565.5 L1839.6,2565.5 L1853.3,2565.5 L1867.0,2565.5 L1880.7,2565.5 L1894.4,2565.5 L1908.1,2565.5 L1921.8,2565.5 L1935.5,2565.5 L1949.1,2565.5 L1962.8,2565.5 L1976.5,2565.5 L1990.2,2565.5 L2003.9,2565.5 L2017.6,2565.5 L2031.3,2565.5 L2045.0,2565.5 L2058.7,2565.5 L2072.4,2565.5 L2086.1,2565.5 L2099.7,2565.5 L2113.4,2565.5 L2127.1,2565.5 L2140.8,2565.5 L2154.5,2565.5 L2168.2,2565.5 L2181.9,2565.5 L2195.6,2565.5 L2209.3,2565.5 L2223.0,2565.5 L2236.7,2565.5 L2250.3,2565.5 L2264.0,2565.5 L2277.7,2565.5 L2291.4,2565.5 L2305.1,2565.5 L2318.8,2565.5 L2332.5,2565.5 L2346.2,2565.5 L2359.9,2565.5 L2373.6,2565.5 L2387.3,2565.5 L2401.0,2565.5 L2414.6,2565.5 L2428.3,2565.5 L2442.0,2565.5 L2455.7,2565.5 L2469.4,2565.5 L2483.1,2565.5 L2496.8,2565.5 L2510.5,2565.5 L2524.2,2565.5 L2537.9,2565.5 L2551.6,2565.5 L2565.2,2565.5 L2578.9,2565.5 L2592.6,2565.5 L2606.3,2565.5 L2620.0,2565.5 L2633.7,2565.5 L2647.4,2565.5 L2661.1,2565.5 L2674.8,2565.5 L2688.5,2565.5 L2702.2,2565.5 L2715.8,2565.5 L2729.5,2565.5 L2743.2,2565.5 L2756.9,2565.5 L2770.6,2565.5 L2784.3,2565.5 L2798.0,2565.5 L2811.7,2565.5 L2825.4,2565.5 L2839.1,2565.5 L2852.8,2565.5 L2866.5,2565.5 L2880.1,2565.5 L2893.8,2565.5" fill="none" stroke="#08F7FE" stroke-opacity="0.027" stroke-width="37.05" stroke-linecap="square" stroke-linejoin="round"/>
<path d="M429.4,2346.0 L443.1,2310.4 L456.8,2270.5 L470.5,2225.9 L484.2,2176.6 L497.9,2122.2 L511.6,2062.7 L525.3,1998.0 L538.9,1928.1 L552.6,1853.1 L566.3,1773.1 L580.0,1688.4 L593.7,1599.3 L607.4,1506.4 L621.1,1410.3 L634.8,1311.5 L648.5,1210.9 L662.2,1109.3 L675.9,1007.8 L689.6,907.2 L703.2,808.8 L716.9,713.6 L730.6,622.7 L744.3,537.2 L758.0,458.3 L771.7,387.0 L785.4,324.3 L799.1,270.9 L812.8,227.7 L826.5,195.3 L840.2,174.1 L853.8,164.4 L867.5,166.5 L881.2,180.2 L894.9,205.4 L908.6,241.6 L922.3,288.5 L936.0,345.2 L949.7,411.1 L963.4,485.1 L977.1,566.4 L990.8,653.9 L1004.4,746.5 L1018.1,842.9 L1031.8,942.2 L1045.5,1043.2 L1059.2,1144.9 L1072.9,1246.2 L1086.6,1346.3 L1100.3,1444.3 L1114.0,1539.4 L1127.7,1631.0 L1141.4,1718.5 L1155.1,1801.6 L1168.7,1879.9 L1182.4,1953.2 L1196.1,2021.3 L1209.8,2084.2 L1223.5,2141.8 L1237.2,2194.4 L1250.9,2242.1 L1264.6,2284.9 L1278.3,2323.3 L1292.0,2357.5 L1305.7,2387.7 L1319.3,2414.3 L1333.0,2437.5 L1346.7,2457.7 L1360.4,2475.1 L1374.1,2490.1 L1387.8,2502.9 L1401.5,2513.8 L1415.2,2523.0 L1428.9,2530.7 L1442.6,2537.2 L1456.3,2542.6 L1469.9,2547.0 L1483.6,2550.7 L1497.3,2553.7 L1511.0,2556.1 L1524.7,2558.1 L1538.4,2559.6 L1552.1,2560.9 L1565.8,2561.9 L1579.5,2562.7 L1593.2,2563.4 L1606.9,2563.9 L1620.6,2564.2 L1634.2,2564.5 L1647.9,2564.8 L1661.6,2565.0 L1675.3,2565.1 L1689.0,2565.2 L1702.7,2565.3 L1716.4,2565.3 L1730.1,2565.4 L1743.8,2565.4 L1757.5,2565.4 L1771.2,2565.5 L1784.8,2565.5 L1798.5,2565.5 L1812.2,2565.5 L1825.9,2565.5 L1839.6,2565.5 L1853.3,2565.5 L1867.0,2565.5 L1880.7,2565.5 L1894.4,2565.5 L1908.1,2565.5 L1921.8,2565.5 L1935.5,2565.5 L1949.1,2565.5 L1962.8,2565.5 L1976.5,2565.5 L1990.2,2565.5 L2003.9,2565.5 L2017.6,2565.5 L2031.3,2565.5 L2045.0,2565.5 L2058.7,2565.5 L2072.4,2565.5 L2086.1,2565.5 L2099.7,2565.5 L2113.4,2565.5 L2127.1,2565.5 L2140.8,2565.5 L2154.5,2565.5 L2168.2,2565.5 L2181.9,2565.5 L2195.6,2565.5 L2209.3,2565.5 L2223.0,2565.5 L2236.7,2565.5 L2250.3,2565.5 L2264.0,2565.5 L2277.7,2565.5 L2291.4,2565.5 L2305.1,2565.5 L2318.8,2565.5 L2332.5,2565.5 L2346.2,2565.5 L2359.9,2565.5 L2373.6,2565.5 L2387.3,2565.5 L2401.0,2565.5 L2414.6,2565.5 L2428.3,2565.5 L2442.0,2565.5 L2455.7,2565.5 L2469.4,2565.5 L2483.1,2565.5 L2496.8,2565.5 L2510.5,2565.5 L2524.2,2565.5 L2537.9,2565.5 L2551.6,2565.5 L2565.2,2565.5 L2578.9,2565.5 L2592.6,2565.5 L2606.3,2565.5 L2620.0,2565.5 L2633.7,2565.5 L2647.4,2565.5 L2661.1,2565.5 L2674.8,2565.5 L2688.5,2565.5 L2702.2,2565.5 L2715.8,2565.5 L2729.5,2565.5 L2743.2,2565.5 L2756.9,2565.5 L2770.6,2565.5 L2784.3,2565.5 L2798.0,2565.5 L2811.7,2565.5 L2825.4,2565.5 L2839.1,2565.5 L2852.8,2565.5 L2866.5,2565.5 L2880.1,2565.5 L2893.8,2565.5" fill="none" stroke="#08F7FE" stroke-opacity="0.027" stroke-width="44.40" stroke-linecap="square" stroke-linejoin="round"/>
<path d="M429.4,2346.0 L443.1,2310.4 L456.8,2270.5 L470.5,2225.9 L484.2,2176.6 L497.9,2122.2 L511.6,2062.7 L525.3,1998.0 L538.9,1928.1 L552.6,1853.1 L566.3,1773.1 L580.0,1688.4 L593.7,1599.3 L607.4,1506.4 L621.1,1410.3 L634.8,1311.5 L648.5,1210.9 L662.2,1109.3 L675.9,1007.8 L689.6,907.2 L703.2,808.8 L716.9,713.6 L730.6,622.7 L744.3,537.2 L758.0,458.3 L771.7,387.0 L785.4,324.3 L799.1,270.9 L812.8,227.7 L826.5,195.3 L840.2,174.1 L853.8,164.4 L867.5,166.5 L881.2,180.2 L894.9,205.4 L908.6,241.6 L922.3,288.5 L936.0,345.2 L949.7,411.1 L963.4,485.1 L977.1,566.4 L990.8,653.9 L1004.4,746.5 L1018.1,842.9 L1031.8,942.2 L1045.5,1043.2 L1059.2,1144.9 L1072.9,1246.2 L1086.6,1346.3 L1100.3,1444.3 L1114.0,1539.4 L1127.7,1631.0 L1141.4,1718.5 L1155.1,1801.6 L1168.7,1879.9 L1182.4,1953.2 L1196.1,2021.3 L1209.8,2084.2 L1223.5,2141.8 L1237.2,2194.4 L1250.9,2242.1 L1264.6,2284.9 L1278.3,2323.3 L1292.0,2357.5 L1305.7,2387.7 L1319.3,2414.3 L1333.0,2437.5 L1346.7,2457.7 L1360.4,2475.1 L1374.1,2490.1 L1387.8,2502.9 L1401.5,2513.8 L1415.2,2523.0 L1428.9,2530.7 L1442.6,2537.2 L1456.3,2542.6 L1469.9,2547.0 L1483.6,2550.7 L1497.3,2553.7 L1511.0,2556.1 L1524.7,2558.1 L1538.4,2559.6 L1552.1,2560.9 L1565.8,2561.9 L1579.5,2562.7 L1593.2,2563.4 L1606.9,2563.9 L1620.6,2564.2 L1634.2,2564.5 L1647.9,2564.8 L1661.6,2565.0 L1675.3,2565.1 L1689.0,2565.2 L1702.7,2565.3 L1716.4,2565.3 L1730.1,2565.4 L1743.8,2565.4 L1757.5,2565.4 L1771.2,2565.5 L1784.8,2565.5 L1798.5,2565.5 L1812.2,2565.5 L1825.9,2565.5 L1839.6,2565.5 L1853.3,2565.5 L1867.0,2565.5 L1880.7,2565.5 L1894.4,2565.5 L1908.1,2565.5 L1921.8,2565.5 L1935.5,2565.5 L1949.1,2565.5 L1962.8,2565.5 L1976.5,2565.5 L1990.2,2565.5 L2003.9,2565.5 L2017.6,2565.5 L2031.3,2565.5 L2045.0,2565.5 L2058.7,2565.5 L2072.4,2565.5 L2086.1,2565.5 L2099.7,2565.5 L2113.4,2565.5 L2127.1,2565.5 L2140.8,2565.5 L2154.5,2565.5 L2168.2,2565.5 L2181.9,2565.5 L2195.6,2565.5 L2209.3,2565.5 L2223.0,2565.5 L2236.7,2565.5 L2250.3,2565.5 L2264.0,2565.5 L2277.7,2565.5 L2291.4,2565.5 L2305.1,2565.5 L2318.8,2565.5 L2332.5,2565.5 L2346.2,2565.5 L2359.9,2565.5 L2373.6,2565.5 L2387.3,2565.5 L2401.0,2565.5 L2414.6,2565.5 L2428.3,2565.5 L2442.0,2565.5 L2455.7,2565.5 L2469.4,2565.5 L2483.1,2565.5 L2496.8,2565.5 L2510.5,2565.5 L2524.2,2565.5 L2537.9,2565.5 L2551.6,2565.5 L2565.2,2565.5 L2578.9,2565.5 L2592.6,2565.5 L2606.3,2565.5 L2620.0,2565.5 L2633.7,2565.5 L2647.4,2565.5 L2661.1,2565.5 L2674.8,2565.5 L2688.5,2565.5 L2702.2,2565.5 L2715.8,2565.5 L2729.5,2565.5 L2743.2,2565.5 L2756.9,2565.5 L2770.6,2565.5 L2784.3,2565.5 L2798.0,2565.5 L2811.7,2565.5 L2825.4,2565.5 L2839.1,2565.5 L2852.8,2565.5 L2866.5,2565.5 L2880.1,2565.5 L2893.8,2565.5" fill="none" stroke="#08F7FE" stroke-opacity="0.027" stroke-width="51.75" stroke-linecap="square" stroke-linejoin="round"/>
<path d="M429.4,2346.0 L443.1,2310.4 L456.8,2270.5 L470.5,2225.9 L484.2,2176.6 L497.9,2122.2 L511.6,2062.7 L525.3,1998.0 L538.9,1928.1 L552.6,1853.1 L566.3,1773.1 L580.0,1688.4 L593.7,1599.3 L607.4,1506.4 L621.1,1410.3 L634.8,1311.5 L648.5,1210.9 L662.2,1109.3 L675.9,1007.8 L689.6,907.2 L703.2,808.8 L716.9,713.6 L730.6,622.7 L744.3,537.2 L758.0,458.3 L771.7,387.0 L785.4,324.3 L799.1,270.9 L812.8,227.7 L826.5,195.3 L840.2,174.1 L853.8,164.4 L867.5,166.5 L881.2,180.2 L894.9,205.4 L908.6,241.6 L922.3,288.5 L936.0,345.2 L949.7,411.1 L963.4,485.1 L977.1,566.4 L990.8,653.9 L1004.4,746.5 L1018.1,842.9 L1031.8,942.2 L1045.5,1043.2 L1059.2,1144.9 L1072.9,1246.2 L1086.6,1346.3 L1100.3,1444.3 L1114.0,1539.4 L1127.7,1631.0 L1141.4,1718.5 L1155.1,1801.6 L1168.7,1879.9 L1182.4,1953.2 L1196.1,2021.3 L1209.8,2084.2 L1223.5,2141.8 L1237.2,2194.4 L1250.9,2242.1 L1264.6,2284.9 L1278.3,2323.3 L1292.0,2357.5 L1305.7,2387.7 L1319.3,2414.3 L1333.0,2437.5 L1346.7,2457.7 L1360.4,2475.1 L1374.1,2490.1 L1387.8,2502.9 L1401.5,2513.8 L1415.2,2523.0 L1428.9,2530.7 L1442.6,2537.2 L1456.3,2542.6 L1469.9,2547.0 L1483.6,2550.7 L1497.3,2553.7 L1511.0,2556.1 L1524.7,2558.1 L1538.4,2559.6 L1552.1,2560.9 L1565.8,2561.9 L1579.5,2562.7 L1593.2,2563.4 L1606.9,2563.9 L1620.6,2564.2 L1634.2,2564.5 L1647.9,2564.8 L1661.6,2565.0 L1675.3,2565.1 L1689.0,2565.2 L1702.7,2565.3 L1716.4,2565.3 L1730.1,2565.4 L1743.8,2565.4 L1757.5,2565.4 L1771.2,2565.5 L1784.8,2565.5 L1798.5,2565.5 L1812.2,2565.5 L1825.9,2565.5 L1839.6,2565.5 L1853.3,2565.5 L1867.0,2565.5 L1880.7,2565.5 L1894.4,2565.5 L1908.1,2565.5 L1921.8,2565.5 L1935.5,2565.5 L1949.1,2565.5 L1962.8,2565.5 L1976.5,2565.5 L1990.2,2565.5 L2003.9,2565.5 L2017.6,2565.5 L2031.3,2565.5 L2045.0,2565.5 L2058.7,2565.5 L2072.4,2565.5 L2086.1,2565.5 L2099.7,2565.5 L2113.4,2565.5 L2127.1,2565.5 L2140.8,2565.5 L2154.5,2565.5 L2168.2,2565.5 L2181.9,2565.5 L2195.6,2565.5 L2209.3,2565.5 L2223.0,2565.5 L2236.7,2565.5 L2250.3,2565.5 L2264.0,2565.5 L2277.7,2565.5 L2291.4,2565.5 L2305.1,2565.5 L2318.8,2565.5 L2332.5,2565.5 L2346.2,2565.5 L2359.9,2565.5 L2373.6,2565.5 L2387.3,2565.5 L2401.0,2565.5 L2414.6,2565.5 L2428.3,2565.5 L2442.0,2565.5 L2455.7,2565.5 L2469.4,2565.5 L2483.1,2565.5 L2496.8,2565.5 L2510.5,2565.5 L2524.2,2565.5 L2537.9,2565.5 L2551.6,2565.5 L2565.2,2565.5 L2578.9,2565.5 L2592.6,2565.5 L2606.3,2565.5 L2620.0,2565.5 L2633.7,2565.5 L2647.4,2565.5 L2661.1,2565.5 L2674.8,2565.5 L2688.5,2565.5 L2702.2,2565.5 L2715.8,2565.5 L2729.5,2565.5 L2743.2,2565.5 L2756.9,2565.5 L2770.6,2565.5 L2784.3,2565.5 L2798.0,2565.5 L2811.7,2565.5 L2825.4,2565.5 L2839.1,2565.5 L2852.8,2565.5 L2866.5,2565.5 L2880.1,2565.5 L2893.8,2565.5" fill="none" stroke="#08F7FE" stroke-opacity="0.027" stroke-width="59.10" stroke-linecap="square" stroke-linejoin="round"/>
<path d="M429.4,2346.0 L443.1,2310.4 L456.8,2270.5 L470.5,2225.9 L484.2,2176.6 L497.9,2122.2 L511.6,2062.7 L525.3,1998.0 L538.9,1928.1 L552.6,1853.1 L566.3,1773.1 L580.0,1688.4 L593.7,1599.3 L607.4,1506.4 L621.1,1410.3 L634.8,1311.5 L648.5,1210.9 L662.2,1109.3 L675.9,1007.8 L689.6,907.2 L703.2,808.8 L716.9,713.6 L730.6,622.7 L744.3,537.2 L758.0,458.3 L771.7,387.0 L785.4,324.3 L799.1,270.9 L812.8,227.7 L826.5,195.3 L840.2,174.1 L853.8,164.4 L867.5,166.5 L881.2,180.2 L894.9,205.4 L908.6,241.6 L922.3,288.5 L936.0,345.2 L949.7,411.1 L963.4,485.1 L977.1,566.4 L990.8,653.9 L1004.4,746.5 L1018.1,842.9 L1031.8,942.2 L1045.5,1043.2 L1059.2,1144.9 L1072.9,1246.2 L1086.6,1346.3 L1100.3,1444.3 L1114.0,1539.4 L1127.7,1631.0 L1141.4,1718.5 L1155.1,1801.6 L1168.7,1879.9 L1182.4,1953.2 L1196.1,2021.3 L1209.8,2084.2 L1223.5,2141.8 L1237.2,2194.4 L1250.9,2242.1 L1264.6,2284.9 L1278.3,2323.3 L1292.0,2357.5 L1305.7,2387.7 L1319.3,2414.3 L1333.0,2437.5 L1346.7,2457.7 L1360.4,2475.1 L1374.1,2490.1 L1387.8,2502.9 L1401.5,2513.8 L1415.2,2523.0 L1428.9,2530.7 L1442.6,2537.2 L1456.3,2542.6 L1469.9,2547.0 L1483.6,2550.7 L1497.3,2553.7 L1511.0,2556.1 L1524.7,2558.1 L1538.4,2559.6 L1552.1,2560.9 L1565.8,2561.9 L1579.5,2562.7 L1593.2,2563.4 L1606.9,2563.9 L1620.6,2564.2 L1634.2,2564.5 L1647.9,2564.8 L1661.6,2565.0 L1675.3,2565.1 L1689.0,2565.2 L1702.7,2565.3 L1716.4,2565.3 L1730.1,2565.4 L1743.8,2565.4 L1757.5,2565.4 L1771.2,2565.5 L1784.8,2565.5 L1798.5,2565.5 L1812.2,2565.5 L1825.9,2565.5 L1839.6,2565.5 L1853.3,2565.5 L1867.0,2565.5 L1880.7,2565.5 L1894.4,2565.5 L1908.1,2565.5 L1921.8,2565.5 L1935.5,2565.5 L1949.1,2565.5 L1962.8,2565.5 L1976.5,2565.5 L1990.2,2565.5 L2003.9,2565.5 L2017.6,2565.5 L2031.3,2565.5 L2045.0,2565.5 L2058.7,2565.5 L2072.4,2565.5 L2086.1,2565.5 L2099.7,2565.5 L2113.4,2565.5 L2127.1,2565.5 L2140.8,2565.5 L2154.5,2565.5 L2168.2,2565.5 L2181.9,2565.5 L2195.6,2565.5 L2209.3,2565.5 L2223.0,2565.5 L2236.7,2565.5 L2250.3,2565.5 L2264.0,2565.5 L2277.7,2565.5 L2291.4,2565.5 L2305.1,2565.5 L2318.8,2565.5 L2332.5,2565.5 L2346.2,2565.5 L2359.9,2565.5 L2373.6,2565.5 L2387.3,2565.5 L2401.0,2565.5 L2414.6,2565.5 L2428.3,2565.5 L2442.0,2565.5 L2455.7,2565.5 L2469.4,2565.5 L2483.1,2565.5 L2496.8,2565.5 L2510.5,2565.5 L2524.2,2565.5 L2537.9,2565.5 L2551.6,2565.5 L2565.2,2565.5 L2578.9,2565.5 L2592.6,2565.5 L2606.3,2565.5 L2620.0,2565.5 L2633.7,2565.5 L2647.4,2565.5 L2661.1,2565.5 L2674.8,2565.5 L2688.5,2565.5 L2702.2,2565.5 L2715.8,2565.5 L2729.5,2565.5 L2743.2,2565.5 L2756.9,2565.5 L2770.6,2565.5 L2784.3,2565.5 L2798.0,2565.5 L2811.7,2565.5 L2825.4,2565.5 L2839.1,2565.5 L2852.8,2565.5 L2866.5,2565.5 L2880.1,2565.5 L2893.8,2565.5" fill="none" stroke="#08F7FE" stroke-opacity="0.027" stroke-width="66.45" stroke-linecap="square" stroke-linejoin="round"/>
<path d="M429.4,2346.0 L443.1,2310.4 L456.8,2270.5 L470.5,2225.9 L484.2,2176.6 L497.9,2122.2 L511.6,2062.7 L525.3,1998.0 L538.9,1928.1 L552.6,1853.1 L566.3,1773.1 L580.0,1688.4 L593.7,1599.3 L607.4,1506.4 L621.1,1410.3 L634.8,1311.5 L648.5,1210.9 L662.2,1109.3 L675.9,1007.8 L689.6,907.2 L703.2,808.8 L716.9,713.6 L730.6,622.7 L744.3,537.2 L758.0,458.3 L771.7,387.0 L785.4,324.3 L799.1,270.9 L812.8,227.7 L826.5,195.3 L840.2,174.1 L853.8,164.4 L867.5,166.5 L881.2,180.2 L894.9,205.4 L908.6,241.6 L922.3,288.5 L936.0,345.2 L949.7,411.1 L963.4,485.1 L977.1,566.4 L990.8,653.9 L1004.4,746.5 L1018.1,842.9 L1031.8,942.2 L1045.5,1043.2 L1059.2,1144.9 L1072.9,1246.2 L1086.6,1346.3 L1100.3,1444.3 L1114.0,1539.4 L1127.7,1631.0 L1141.4,1718.5 L1155.1,1801.6 L1168.7,1879.9 L1182.4,1953.2 L1196.1,2021.3 L1209.8,2084.2 L1223.5,2141.8 L1237.2,2194.4 L1250.9,2242.1 L1264.6,2284.9 L1278.3,2323.3 L1292.0,2357.5 L1305.7,2387.7 L1319.3,2414.3 L1333.0,2437.5 L1346.7,2457.7 L1360.4,2475.1 L1374.1,2490.1 L1387.8,2502.9 L1401.5,2513.8 L1415.2,2523.0 L1428.9,2530.7 L1442.6,2537.2 L1456.3,2542.6 L1469.9,2547.0 L1483.6,2550.7 L1497.3,2553.7 L1511.0,2556.1 L1524.7,2558.1 L1538.4,2559.6 L1552.1,2560.9 L1565.8,2561.9 L1579.5,2562.7 L1593.2,2563.4 L1606.9,2563.9 L1620.6,2564.2 L1634.2,2564.5 L1647.9,2564.8 L1661.6,2565.0 L1675.3,2565.1 L1689.0,2565.2 L1702.7,2565.3 L1716.4,2565.3 L1730.1,2565.4 L1743.8,2565.4 L1757.5,2565.4 L1771.2,2565.5 L1784.8,2565.5 L1798.5,2565.5 L1812.2,2565.5 L1825.9,2565.5 L1839.6,2565.5 L1853.3,2565.5 L1867.0,2565.5 L1880.7,2565.5 L1894.4,2565.5 L1908.1,2565.5 L1921.8,2565.5 L1935.5,2565.5 L1949.1,2565.5 L1962.8,2565.5 L1976.5,2565.5 L1990.2,2565.5 L2003.9,2565.5 L2017.6,2565.5 L2031.3,2565.5 L2045.0,2565.5 L2058.7,2565.5 L2072.4,2565.5 L2086.1,2565.5 L2099.7,2565.5 L2113.4,2565.5 L2127.1,2565.5 L2140.8,2565.5 L2154.5,2565.5 L2168.2,2565.5 L2181.9,2565.5 L2195.6,2565.5 L2209.3,2565.5 L2223.0,2565.5 L2236.7,2565.5 L2250.3,2565.5 L2264.0,2565.5 L2277.7,2565.5 L2291.4,2565.5 L2305.1,2565.5 L2318.8,2565.5 L2332.5,2565.5 L2346.2,2565.5 L2359.9,2565.5 L2373.6,2565.5 L2387.3,2565.5 L2401.0,2565.5 L2414.6,2565.5 L2428.3,2565.5 L2442.0,2565.5 L2455.7,2565.5 L2469.4,2565.5 L2483.1,2565.5 L2496.8,2565.5 L2510.5,2565.5 L2524.2,2565.5 L2537.9,2565.5 L2551.6,2565.5 L2565.2,2565.5 L2578.9,2565.5 L2592.6,2565.5 L2606.3,2565.5 L2620.0,2565.5 L2633.7,2565.5 L2647.4,2565.5 L2661.1,2565.5 L2674.8,2565.5 L2688.5,2565.5 L2702.2,2565.5 L2715.8,2565.5 L2729.5,2565.5 L2743.2,2565.5 L2756.9,2565.5 L2770.6,2565.5 L2784.3,2565.5 L2798.0,2565.5 L2811.7,2565.5 L2825.4,2565.5 L2839.1,2565.5 L2852.8,2565.5 L2866.5,2565.5 L2880.1,2565.5 L2893.8,2565.5" fill="none" stroke="#08F7FE" stroke-opacity="0.027" stroke-width="73.80" stroke-linecap="square" stroke-linejoin="round"/>
<path d="M429.4,2346.0 L443.1,2310.4 L456.8,2270.5 L470.5,2225.9 L484.2,2176.6 L497.9,2122.2 L511.6,2062.7 L525.3,1998.0 L538.9,1928.1 L552.6,1853.1 L566.3,1773.1 L580.0,1688.4 L593.7,1599.3 L607.4,1506.4 L621.1,1410.3 L634.8,1311.5 L648.5,1210.9 L662.2,1109.3 L675.9,1007.8 L689.6,907.2 L703.2,808.8 L716.9,713.6 L730.6,622.7 L744.3,537.2 L758.0,458.3 L771.7,387.0 L785.4,324.3 L799.1,270.9 L812.8,227.7 L826.5,195.3 L840.2,174.1 L853.8,164.4 L867.5,166.5 L881.2,180.2 L894.9,205.4 L908.6,241.6 L922.3,288.5 L936.0,345.2 L949.7,411.1 L963.4,485.1 L977.1,566.4 L990.8,653.9 L1004.4,746.5 L1018.1,842.9 L1031.8,942.2 L1045.5,1043.2 L1059.2,1144.9 L1072.9,1246.2 L1086.6,1346.3 L1100.3,1444.3 L1114.0,1539.4 L1127.7,1631.0 L1141.4,1718.5 L1155.1,1801.6 L1168.7,1879.9 L1182.4,1953.2 L1196.1,2021.3 L1209.8,2084.2 L1223.5,2141.8 L1237.2,2194.4 L1250.9,2242.1 L1264.6,2284.9 L1278.3,2323.3 L1292.0,2357.5 L1305.7,2387.7 L1319.3,2414.3 L1333.0,2437.5 L1346.7,2457.7 L1360.4,2475.1 L1374.1,2490.1 L1387.8,2502.9 L1401.5,2513.8 L1415.2,2523.0 L1428.9,2530.7 L1442.6,2537.2 L1456.3,2542.6 L1469.9,2547.0 L1483.6,2550.7 L1497.3,2553.7 L1511.0,2556.1 L1524.7,2558.1 L1538.4,2559.6 L1552.1,2560.9 L1565.8,2561.9 L1579.5,2562.7 L1593.2,2563.4 L1606.9,2563.9 L1620.6,2564.2 L1634.2,2564.5 L1647.9,2564.8 L1661.6,2565.0 L1675.3,2565.1 L1689.0,2565.2 L1702.7,2565.3 L1716.4,2565.3 L1730.1,2565.4 L1743.8,2565.4 L1757.5,2565.4 L1771.2,2565.5 L1784.8,2565.5 L1798.5,2565.5 L1812.2,2565.5 L1825.9,2565.5 L1839.6,2565.5 L1853.3,2565.5 L1867.0,2565.5 L1880.7,2565.5 L1894.4,2565.5 L1908.1,2565.5 L1921.8,2565.5 L1935.5,2565.5 L1949.1,2565.5 L1962.8,2565.5 L1976.5,2565.5 L1990.2,2565.5 L2003.9,2565.5 L2017.6,2565.5 L2031.3,2565.5 L2045.0,2565.5 L2058.7,2565.5 L2072.4,2565.5 L2086.1,2565.5 L2099.7,2565.5 L2113.4,2565.5 L2127.1,2565.5 L2140.8,2565.5 L2154.5,2565.5 L2168.2,2565.5 L2181.9,2565.5 L2195.6,2565.5 L2209.3,2565.5 L2223.0,2565.5 L2236.7,2565.5 L2250.3,2565.5 L2264.0,2565.5 L2277.7,2565.5 L2291.4,2565.5 L2305.1,2565.5 L2318.8,2565.5 L2332.5,2565.5 L2346.2,2565.5 L2359.9,2565.5 L2373.6,2565.5 L2387.3,2565.5 L2401.0,2565.5 L2414.6,2565.5 L2428.3,2565.5 L2442.0,2565.5 L2455.7,2565.5 L2469.4,2565.5 L2483.1,2565.5 L2496.8,2565.5 L2510.5,2565.5 L2524.2,2565.5 L2537.9,2565.5 L2551.6,2565.5 L2565.2,2565.5 L2578.9,2565.5 L2592.6,2565.5 L2606.3,2565.5 L2620.0,2565.5 L2633.7,2565.5 L2647.4,2565.5 L2661.1,2565.5 L2674.8,2565.5 L2688.5,2565.5 L2702.2,2565.5 L2715.8,2565.5 L2729.5,2565.5 L2743.2,2565.5 L2756.9,2565.5 L2770.6,2565.5 L2784.3,2565.5 L2798.0,2565.5 L2811.7,2565.5 L2825.4,2565.5 L2839.1,2565.5 L2852.8,2565.5 L2866.5,2565.5 L2880.1,2565.5 L2893.8,2565.5" fill="none" stroke="#08F7FE" stroke-opacity="0.027" stroke-width="81.15" stroke-linecap="square" stroke-linejoin="round"/>
<path d="M429.4,2346.0 L443.1,2310.4 L456.8,2270.5 L470.5,2225.9 L484.2,2176.6 L497.9,2122.2 L511.6,2062.7 L525.3,1998.0 L538.9,1928.1 L552.6,1853.1 L566.3,1773.1 L580.0,1688.4 L593.7,1599.3 L607.4,1506.4 L621.1,1410.3 L634.8,1311.5 L648.5,1210.9 L662.2,1109.3 L675.9,1007.8 L689.6,907.2 L703.2,808.8 L716.9,713.6 L730.6,622.7 L744.3,537.2 L758.0,458.3 L771.7,387.0 L785.4,324.3 L799.1,270.9 L812.8,227.7 L826.5,195.3 L840.2,174.1 L853.8,164.4 L867.5,166.5 L881.2,180.2 L894.9,205.4 L908.6,241.6 L922.3,288.5 L936.0,345.2 L949.7,411.1 L963.4,485.1 L977.1,566.4 L990.8,653.9 L1004.4,746.5 L1018.1,842.9 L1031.8,942.2 L1045.5,1043.2 L1059.2,1144.9 L1072.9,1246.2 L1086.6,1346.3 L1100.3,1444.3 L1114.0,1539.4 L1127.7,1631.0 L1141.4,1718.5 L1155.1,1801.6 L1168.7,1879.9 L1182.4,1953.2 L1196.1,2021.3 L1209.8,2084.2 L1223.5,2141.8 L1237.2,2194.4 L1250.9,2242.1 L1264.6,2284.9 L1278.3,2323.3 L1292.0,2357.5 L1305.7,2387.7 L1319.3,2414.3 L1333.0,2437.5 L1346.7,2457.7 L1360.4,2475.1 L1374.1,2490.1 L1387.8,2502.9 L1401.5,2513.8 L1415.2,2523.0 L1428.9,2530.7 L1442.6,2537.2 L1456.3,2542.6 L1469.9,2547.0 L1483.6,2550.7 L1497.3,2553.7 L1511.0,2556.1 L1524.7,2558.1 L1538.4,2559.6 L1552.1,2560.9 L1565.8,2561.9 L1579.5,2562.7 L1593.2,2563.4 L1606.9,2563.9 L1620.6,2564.2 L1634.2,2564.5 L1647.9,2564.8 L1661.6,2565.0 L1675.3,2565.1 L1689.0,2565.2 L1702.7,2565.3 L1716.4,2565.3 L1730.1,2565.4 L1743.8,2565.4 L1757.5,2565.4 L1771.2,2565.5 L1784.8,2565.5 L1798.5,2565.5 L1812.2,2565.5 L1825.9,2565.5 L1839.6,2565.5 L1853.3,2565.5 L1867.0,2565.5 L1880.7,2565.5 L1894.4,2565.5 L1908.1,2565.5 L1921.8,2565.5 L1935.5,2565.5 L1949.1,2565.5 L1962.8,2565.5 L1976.5,2565.5 L1990.2,2565.5 L2003.9,2565.5 L2017.6,2565.5 L2031.3,2565.5 L2045.0,2565.5 L2058.7,2565.5 L2072.4,2565.5 L2086.1,2565.5 L2099.7,2565.5 L2113.4,2565.5 L2127.1,2565.5 L2140.8,2565.5 L2154.5,2565.5 L2168.2,2565.5 L2181.9,2565.5 L2195.6,2565.5 L2209.3,2565.5 L2223.0,2565.5 L2236.7,2565.5 L2250.3,2565.5 L2264.0,2565.5 L2277.7,2565.5 L2291.4,2565.5 L2305.1,2565.5 L2318.8,2565.5 L2332.5,2565.5 L2346.2,2565.5 L2359.9,2565.5 L2373.6,2565.5 L2387.3,2565.5 L2401.0,2565.5 L2414.6,2565.5 L2428.3,2565.5 L2442.0,2565.5 L2455.7,2565.5 L2469.4,2565.5 L2483.1,2565.5 L2496.8,2565.5 L2510.5,2565.5 L2524.2,2565.5 L2537.9,2565.5 L2551.6,2565.5 L2565.2,2565.5 L2578.9,2565.5 L2592.6,2565.5 L2606.3,2565.5 L2620.0,2565.5 L2633.7,2565.5 L2647.4,2565.5 L2661.1,2565.5 L2674.8,2565.5 L2688.5,2565.5 L2702.2,2565.5 L2715.8,2565.5 L2729.5,2565.5 L2743.2,2565.5 L2756.9,2565.5 L2770.6,2565.5 L2784.3,2565.5 L2798.0,2565.5 L2811.7,2565.5 L2825.4,2565.5 L2839.1,2565.5 L2852.8,2565.5 L2866.5,2565.5 L2880.1,2565.5 L2893.8,2565.5" fill="none" stroke="#08F7FE" stroke-opacity="0.027" stroke-width="88.50" stroke-linecap="square" stroke-linejoin="round"/>
<path d="M429.4,2565.1 L443.1,2565.1 L456.8,2565.0 L470.5,2565.0 L484.2,2564.9 L497.9,2564.8 L511.6,2564.7 L525.3,2564.6 L538.9,2564.5 L552.6,2564.3 L566.3,2564.2 L580.0,2564.0 L593.7,2563.8 L607.4,2563.5 L621.1,2563.3 L634.8,2563.0 L648.5,2562.7 L662.2,2562.3 L675.9,2561.9 L689.6,2561.5 L703.2,2561.0 L716.9,2560.4 L730.6,2559.8 L744.3,2559.1 L758.0,2558.3 L771.7,2557.5 L785.4,2556.6 L799.1,2555.6 L812.8,2554.5 L826.5,2553.2 L840.2,2551.9 L853.8,2550.4 L867.5,2548.8 L881.2,2547.0 L894.9,2545.1 L908.6,2542.9 L922.3,2540.6 L936.0,2538.1 L949.7,2535.4 L963.4,2532.5 L977.1,2529.3 L990.8,2525.8 L1004.4,2522.1 L1018.1,2518.0 L1031.8,2513.7 L1045.5,2509.0 L1059.2,2504.0 L1072.9,2498.6 L1086.6,2492.9 L1100.3,2486.7 L1114.0,2480.1 L1127.7,2473.1 L1141.4,2465.6 L1155.1,2457.6 L1168.7,2449.2 L1182.4,2440.2 L1196.1,2430.7 L1209.8,2420.7 L1223.5,2410.1 L1237.2,2398.9 L1250.9,2387.1 L1264.6,2374.8 L1278.3,2361.8 L1292.0,2348.2 L1305.7,2333.9 L1319.3,2319.1 L1333.0,2303.6 L1346.7,2287.4 L1360.4,2270.7 L1374.1,2253.2 L1387.8,2235.2 L1401.5,2216.5 L1415.2,2197.2 L1428.9,2177.4 L1442.6,2156.9 L1456.3,2135.9 L1469.9,2114.3 L1483.6,2092.3 L1497.3,2069.7 L1511.0,2046.7 L1524.7,2023.3 L1538.4,1999.5 L1552.1,1975.4 L1565.8,1951.0 L1579.5,1926.4 L1593.2,1901.6 L1606.9,1876.6 L1620.6,1851.6 L1634.2,1826.5 L1647.9,1801.5 L1661.6,1776.6 L1675.3,1751.9 L1689.0,1727.4 L1702.7,1703.2 L1716.4,1679.4 L1730.1,1656.0 L1743.8,1633.1 L1757.5,1610.8 L1771.2,1589.1 L1784.8,1568.2 L1798.5,1548.0 L1812.2,1528.7 L1825.9,1510.3 L1839.6,1492.8 L1853.3,1476.4 L1867.0,1461.1 L1880.7,1446.9 L1894.4,1433.8 L1908.1,1422.0 L1921.8,1411.5 L1935.5,1402.3 L1949.1,1394.4 L1962.8,1387.9 L1976.5,1382.7 L1990.2,1379.0 L2003.9,1376.7 L2017.6,1375.9 L2031.3,1376.4 L2045.0,1378.4 L2058.7,1381.8 L2072.4,1386.7 L2086.1,1392.9 L2099.7,1400.5 L2113.4,1409.5 L2127.1,1419.7 L2140.8,1431.3 L2154.5,1444.0 L2168.2,1458.0 L2181.9,1473.1 L2195.6,1489.3 L2209.3,1506.5 L2223.0,1524.8 L2236.7,1543.9 L2250.3,1563.9 L2264.0,1584.7 L2277.7,1606.2 L2291.4,1628.4 L2305.1,1651.1 L2318.8,1674.4 L2332.5,1698.2 L2346.2,1722.3 L2359.9,1746.7 L2373.6,1771.4 L2387.3,1796.3 L2401.0,1821.3 L2414.6,1846.3 L2428.3,1871.4 L2442.0,1896.3 L2455.7,1921.2 L2469.4,1945.9 L2483.1,1970.3 L2496.8,1994.5 L2510.5,2018.4 L2524.2,2041.8 L2537.9,2064.9 L2551.6,2087.6 L2565.2,2109.7 L2578.9,2131.4 L2592.6,2152.5 L2606.3,2173.1 L2620.0,2193.1 L2633.7,2212.5 L2647.4,2231.3 L2661.1,2249.5 L2674.8,2267.1 L2688.5,2284.0 L2702.2,2300.2 L2715.8,2315.9 L2729.5,2330.9 L2743.2,2345.2 L2756.9,2359.0 L2770.6,2372.1 L2784.3,2384.6 L2798.0,2396.5 L2811.7,2407.8 L2825.4,2418.5 L2839.1,2428.7 L2852.8,2438.3 L2866.5,2447.3 L2880.1,2455.9 L2893.8,2464.0" fill="none" stroke="#FE53BB" stroke-opacity="0.027" stroke-width="22.35" stroke-linecap="square" stroke-linejoin="round"/>
<path d="M429.4,2565.1 L443.1,2565.1 L456.8,2565.0 L470.5,2565.0 L484.2,2564.9 L497.9,2564.8 L511.6,2564.7 L525.3,2564.6 L538.9,2564.5 L552.6,2564.3 L566.3,2564.2 L580.0,2564.0 L593.7,2563.8 L607.4,2563.5 L621.1,2563.3 L634.8,2563.0 L648.5,2562.7 L662.2,2562.3 L675.9,2561.9 L689.6,2561.5 L703.2,2561.0 L716.9,2560.4 L730.6,2559.8 L744.3,2559.1 L758.0,2558.3 L771.7,2557.5 L785.4,2556.6 L799.1,2555.6 L812.8,2554.5 L826.5,2553.2 L840.2,2551.9 L853.8,2550.4 L867.5,2548.8 L881.2,2547.0 L894.9,2545.1 L908.6,2542.9 L922.3,2540.6 L936.0,2538.1 L949.7,2535.4 L963.4,2532.5 L977.1,2529.3 L990.8,2525.8 L1004.4,2522.1 L1018.1,2518.0 L1031.8,2513.7 L1045.5,2509.0 L1059.2,2504.0 L1072.9,2498.6 L1086.6,2492.9 L1100.3,2486.7 L1114.0,2480.1 L1127.7,2473.1 L1141.4,2465.6 L1155.1,2457.6 L1168.7,2449.2 L1182.4,2440.2 L1196.1,2430.7 L1209.8,2420.7 L1223.5,2410.1 L1237.2,2398.9 L1250.9,2387.1 L1264.6,2374.8 L1278.3,2361.8 L1292.0,2348.2 L1305.7,2333.9 L1319.3,2319.1 L1333.0,2303.6 L1346.7,2287.4 L1360.4,2270.7 L1374.1,2253.2 L1387.8,2235.2 L1401.5,2216.5 L1415.2,2197.2 L1428.9,2177.4 L1442.6,2156.9 L1456.3,2135.9 L1469.9,2114.3 L1483.6,2092.3 L1497.3,2069.7 L1511.0,2046.7 L1524.7,2023.3 L1538.4,1999.5 L1552.1,1975.4 L1565.8,1951.0 L1579.5,1926.4 L1593.2,1901.6 L1606.9,1876.6 L1620.6,1851.6 L1634.2,1826.5 L1647.9,1801.5 L1661.6,1776.6 L1675.3,1751.9 L1689.0,1727.4 L1702.7,1703.2 L1716.4,1679.4 L1730.1,1656.0 L1743.8,1633.1 L1757.5,1610.8 L1771.2,1589.1 L1784.8,1568.2 L1798.5,1548.0 L1812.2,1528.7 L1825.9,1510.3 L1839.6,1492.8 L1853.3,1476.4 L1867.0,1461.1 L1880.7,1446.9 L1894.4,1433.8 L1908.1,1422.0 L1921.8,1411.5 L1935.5,1402.3 L1949.1,1394.4 L1962.8,1387.9 L1976.5,1382.7 L1990.2,1379.0 L2003.9,1376.7 L2017.6,1375.9 L2031.3,1376.4 L2045.0,1378.4 L2058.7,1381.8 L2072.4,1386.7 L2086.1,1392.9 L2099.7,1400.5 L2113.4,1409.5 L2127.1,1419.7 L2140.8,1431.3 L2154.5,1444.0 L2168.2,1458.0 L2181.9,1473.1 L2195.6,1489.3 L2209.3,1506.5 L2223.0,1524.8 L2236.7,1543.9 L2250.3,1563.9 L2264.0,1584.7 L2277.7,1606.2 L2291.4,1628.4 L2305.1,1651.1 L2318.8,1674.4 L2332.5,1698.2 L2346.2,1722.3 L2359.9,1746.7 L2373.6,1771.4 L2387.3,1796.3 L2401.0,1821.3 L2414.6,1846.3 L2428.3,1871.4 L2442.0,1896.3 L2455.7,1921.2 L2469.4,1945.9 L2483.1,1970.3 L2496.8,1994.5 L2510.5,2018.4 L2524.2,2041.8 L2537.9,2064.9 L2551.6,2087.6 L2565.2,2109.7 L2578.9,2131.4 L2592.6,2152.5 L2606.3,2173.1 L2620.0,2193.1 L2633.7,2212.5 L2647.4,2231.3 L2661.1,2249.5 L2674.8,2267.1 L2688.5,2284.0 L2702.2,2300.2 L2715.8,2315.9 L2729.5,2330.9 L2743.2,2345.2 L2756.9,2359.0 L2770.6,2372.1 L2784.3,2384.6 L2798.0,2396.5 L2811.7,2407.8 L2825.4,2418.5 L2839.1,2428.7 L2852.8,2438.3 L2866.5,2447.3 L2880.1,2455.9 L2893.8,2464.0" fill="none" stroke="#FE53BB" stroke-opacity="0.027" stroke-width="29.70" stroke-linecap="square" stroke-linejoin="round"/>
<path d="M429.4,2565.1 L443.1,2565.1 L456.8,2565.0 L470.5,2565.0 L484.2,2564.9 L497.9,2564.8 L511.6,2564.7 L525.3,2564.6 L538.9,2564.5 L552.6,2564.3 L566.3,2564.2 L580.0,2564.0 L593.7,2563.8 L607.4,2563.5 L621.1,2563.3 L634.8,2563.0 L648.5,2562.7 L662.2,2562.3 L675.9,2561.9 L689.6,2561.5 L703.2,2561.0 L716.9,2560.4 L730.6,2559.8 L744.3,2559.1 L758.0,2558.3 L771.7,2557.5 L785.4,2556.6 L799.1,2555.6 L812.8,2554.5 L826.5,2553.2 L840.2,2551.9 L853.8,2550.4 L867.5,2548.8 L881.2,2547.0 L894.9,2545.1 L908.6,2542.9 L922.3,2540.6 L936.0,2538.1 L949.7,2535.4 L963.4,2532.5 L977.1,2529.3 L990.8,2525.8 L1004.4,2522.1 L1018.1,2518.0 L1031.8,2513.7 L1045.5,2509.0 L1059.2,2504.0 L1072.9,2498.6 L1086.6,2492.9 L1100.3,2486.7 L1114.0,2480.1 L1127.7,2473.1 L1141.4,2465.6 L1155.1,2457.6 L1168.7,2449.2 L1182.4,2440.2 L1196.1,2430.7 L1209.8,2420.7 L1223.5,2410.1 L1237.2,2398.9 L1250.9,2387.1 L1264.6,2374.8 L1278.3,2361.8 L1292.0,2348.2 L1305.7,2333.9 L1319.3,2319.1 L1333.0,2303.6 L1346.7,2287.4 L1360.4,2270.7 L1374.1,2253.2 L1387.8,2235.2 L1401.5,2216.5 L1415.2,2197.2 L1428.9,2177.4 L1442.6,2156.9 L1456.3,2135.9 L1469.9,2114.3 L1483.6,2092.3 L1497.3,2069.7 L1511.0,2046.7 L1524.7,2023.3 L1538.4,1999.5 L1552.1,1975.4 L1565.8,1951.0 L1579.5,1926.4 L1593.2,1901.6 L1606.9,1876.6 L1620.6,1851.6 L1634.2,1826.5 L1647.9,1801.5 L1661.6,1776.6 L1675.3,1751.9 L1689.0,1727.4 L1702.7,1703.2 L1716.4,1679.4 L1730.1,1656.0 L1743.8,1633.1 L1757.5,1610.8 L1771.2,1589.1 L1784.8,1568.2 L1798.5,1548.0 L1812.2,1528.7 L1825.9,1510.3 L1839.6,1492.8 L1853.3,1476.4 L1867.0,1461.1 L1880.7,1446.9 L1894.4,1433.8 L1908.1,1422.0 L1921.8,1411.5 L1935.5,1402.3 L1949.1,1394.4 L1962.8,1387.9 L1976.5,1382.7 L1990.2,1379.0 L2003.9,1376.7 L2017.6,1375.9 L2031.3,1376.4 L2045.0,1378.4 L2058.7,1381.8 L2072.4,1386.7 L2086.1,1392.9 L2099.7,1400.5 L2113.4,1409.5 L2127.1,1419.7 L2140.8,1431.3 L2154.5,1444.0 L2168.2,1458.0 L2181.9,1473.1 L2195.6,1489.3 L2209.3,1506.5 L2223.0,1524.8 L2236.7,1543.9 L2250.3,1563.9 L2264.0,1584.7 L2277.7,1606.2 L2291.4,1628.4 L2305.1,1651.1 L2318.8,1674.4 L2332.5,1698.2 L2346.2,1722.3 L2359.9,1746.7 L2373.6,1771.4 L2387.3,1796.3 L2401.0,1821.3 L2414.6,1846.3 L2428.3,1871.4 L2442.0,1896.3 L2455.7,1921.2 L2469.4,1945.9 L2483.1,1970.3 L2496.8,1994.5 L2510.5,2018.4 L2524.2,2041.8 L2537.9,2064.9 L2551.6,2087.6 L2565.2,2109.7 L2578.9,2131.4 L2592.6,2152.5 L2606.3,2173.1 L2620.0,2193.1 L2633.7,2212.5 L2647.4,2231.3 L2661.1,2249.5 L2674.8,2267.1 L2688.5,2284.0 L2702.2,2300.2 L2715.8,2315.9 L2729.5,2330.9 L2743.2,2345.2 L2756.9,2359.0 L2770.6,2372.1 L2784.3,2384.6 L2798.0,2396.5 L2811.7,2407.8 L2825.4,2418.5 L2839.1,2428.7 L2852.8,2438.3 L2866.5,2447.3 L2880.1,2455.9 L2893.8,2464.0" fill="none" stroke="#FE53BB" stroke-opacity="0.027" stroke-width="37.05" stroke-linecap="square" stroke-linejoin="round"/>
<path d="M429.4,2565.1 L443.1,2565.1 L456.8,2565.0 L470.5,2565.0 L484.2,2564.9 L497.9,2564.8 L511.6,2564.7 L525.3,2564.6 L538.9,2564.5 L552.6,2564.3 L566.3,2564.2 L580.0,2564.0 L593.7,2563.8 L607.4,2563.5 L621.1,2563.3 L634.8,2563.0 L648.5,2562.7 L662.2,2562.3 L675.9,2561.9 L689.6,2561.5 L703.2,2561.0 L716.9,2560.4 L730.6,2559.8 L744.3,2559.1 L758.0,2558.3 L771.7,2557.5 L785.4,2556.6 L799.1,2555.6 L812.8,2554.5 L826.5,2553.2 L840.2,2551.9 L853.8,2550.4 L867.5,2548.8 L881.2,2547.0 L894.9,2545.1 L908.6,2542.9 L922.3,2540.6 L936.0,2538.1 L949.7,2535.4 L963.4,2532.5 L977.1,2529.3 L990.8,2525.8 L1004.4,2522.1 L1018.1,2518.0 L1031.8,2513.7 L1045.5,2509.0 L1059.2,2504.0 L1072.9,2498.6 L1086.6,2492.9 L1100.3,2486.7 L1114.0,2480.1 L1127.7,2473.1 L1141.4,2465.6 L1155.1,2457.6 L1168.7,2449.2 L1182.4,2440.2 L1196.1,2430.7 L1209.8,2420.7 L1223.5,2410.1 L1237.2,2398.9 L1250.9,2387.1 L1264.6,2374.8 L1278.3,2361.8 L1292.0,2348.2 L1305.7,2333.9 L1319.3,2319.1 L1333.0,2303.6 L1346.7,2287.4 L1360.4,2270.7 L1374.1,2253.2 L1387.8,2235.2 L1401.5,2216.5 L1415.2,2197.2 L1428.9,2177.4 L1442.6,2156.9 L1456.3,2135.9 L1469.9,2114.3 L1483.6,2092.3 L1497.3,2069.7 L1511.0,2046.7 L1524.7,2023.3 L1538.4,1999.5 L1552.1,1975.4 L1565.8,1951.0 L1579.5,1926.4 L1593.2,1901.6 L1606.9,1876.6 L1620.6,1851.6 L1634.2,1826.5 L1647.9,1801.5 L1661.6,1776.6 L1675.3,1751.9 L1689.0,1727.4 L1702.7,1703.2 L1716.4,1679.4 L1730.1,1656.0 L1743.8,1633.1 L1757.5,1610.8 L1771.2,1589.1 L1784.8,1568.2 L1798.5,1548.0 L1812.2,1528.7 L1825.9,1510.3 L1839.6,1492.8 L1853.3,1476.4 L1867.0,1461.1 L1880.7,1446.9 L1894.4,1433.8 L1908.1,1422.0 L1921.8,1411.5 L1935.5,1402.3 L1949.1,1394.4 L1962.8,1387.9 L1976.5,1382.7 L1990.2,1379.0 L2003.9,1376.7 L2017.6,1375.9 L2031.3,1376.4 L2045.0,1378.4 L2058.7,1381.8 L2072.4,1386.7 L2086.1,1392.9 L2099.7,1400.5 L2113.4,1409.5 L2127.1,1419.7 L2140.8,1431.3 L2154.5,1444.0 L2168.2,1458.0 L2181.9,1473.1 L2195.6,1489.3 L2209.3,1506.5 L2223.0,1524.8 L2236.7,1543.9 L2250.3,1563.9 L2264.0,1584.7 L2277.7,1606.2 L2291.4,1628.4 L2305.1,1651.1 L2318.8,1674.4 L2332.5,1698.2 L2346.2,1722.3 L2359.9,1746.7 L2373.6,1771.4 L2387.3,1796.3 L2401.0,1821.3 L2414.6,1846.3 L2428.3,1871.4 L2442.0,1896.3 L2455.7,1921.2 L2469.4,1945.9 L2483.1,1970.3 L2496.8,1994.5 L2510.5,2018.4 L2524.2,2041.8 L2537.9,2064.9 L2551.6,2087.6 L2565.2,2109.7 L2578.9,2131.4 L2592.6,2152.5 L2606.3,2173.1 L2620.0,2193.1 L2633.7,2212.5 L2647.4,2231.3 L2661.1,2249.5 L2674.8,2267.1 L2688.5,2284.0 L2702.2,2300.2 L2715.8,2315.9 L2729.5,2330.9 L2743.2,2345.2 L2756.9,2359.0 L2770.6,2372.1 L2784.3,2384.6 L2798.0,2396.5 L2811.7,2407.8 L2825.4,2418.5 L2839.1,2428.7 L2852.8,2438.3 L2866.5,2447.3 L2880.1,2455.9 L2893.8,2464.0" fill="none" stroke="#FE53BB" stroke-opacity="0.027" stroke-width="44.40" stroke-linecap="square" stroke-linejoin="round"/>
<path d="M429.4,2565.1 L443.1,2565.1 L456.8,2565.0 L470.5,2565.0 L484.2,2564.9 L497.9,2564.8 L511.6,2564.7 L525.3,2564.6 L538.9,2564.5 L552.6,2564.3 L566.3,2564.2 L580.0,2564.0 L593.7,2563.8 L607.4,2563.5 L621.1,2563.3 L634.8,2563.0 L648.5,2562.7 L662.2,2562.3 L675.9,2561.9 L689.6,2561.5 L703.2,2561.0 L716.9,2560.4 L730.6,2559.8 L744.3,2559.1 L758.0,2558.3 L771.7,2557.5 L785.4,2556.6 L799.1,2555.6 L812.8,2554.5 L826.5,2553.2 L840.2,2551.9 L853.8,2550.4 L867.5,2548.8 L881.2,2547.0 L894.9,2545.1 L908.6,2542.9 L922.3,2540.6 L936.0,2538.1 L949.7,2535.4 L963.4,2532.5 L977.1,2529.3 L990.8,2525.8 L1004.4,2522.1 L1018.1,2518.0 L1031.8,2513.7 L1045.5,2509.0 L1059.2,2504.0 L1072.9,2498.6 L1086.6,2492.9 L1100.3,2486.7 L1114.0,2480.1 L1127.7,2473.1 L1141.4,2465.6 L1155.1,2457.6 L1168.7,2449.2 L1182.4,2440.2 L1196.1,2430.7 L1209.8,2420.7 L1223.5,2410.1 L1237.2,2398.9 L1250.9,2387.1 L1264.6,2374.8 L1278.3,2361.8 L1292.0,2348.2 L1305.7,2333.9 L1319.3,2319.1 L1333.0,2303.6 L1346.7,2287.4 L1360.4,2270.7 L1374.1,2253.2 L1387.8,2235.2 L1401.5,2216.5 L1415.2,2197.2 L1428.9,2177.4 L1442.6,2156.9 L1456.3,2135.9 L1469.9,2114.3 L1483.6,2092.3 L1497.3,2069.7 L1511.0,2046.7 L1524.7,2023.3 L1538.4,1999.5 L1552.1,1975.4 L1565.8,1951.0 L1579.5,1926.4 L1593.2,1901.6 L1606.9,1876.6 L1620.6,1851.6 L1634.2,1826.5 L1647.9,1801.5 L1661.6,1776.6 L1675.3,1751.9 L1689.0,1727.4 L1702.7,1703.2 L1716.4,1679.4 L1730.1,1656.0 L1743.8,1633.1 L1757.5,1610.8 L1771.2,1589.1 L1784.8,1568.2 L1798.5,1548.0 L1812.2,1528.7 L1825.9,1510.3 L1839.6,1492.8 L1853.3,1476.4 L1867.0,1461.1 L1880.7,1446.9 L1894.4,1433.8 L1908.1,1422.0 L1921.8,1411.5 L1935.5,1402.3 L1949.1,1394.4 L1962.8,1387.9 L1976.5,1382.7 L1990.2,1379.0 L2003.9,1376.7 L2017.6,1375.9 L2031.3,1376.4 L2045.0,1378.4 L2058.7,1381.8 L2072.4,1386.7 L2086.1,1392.9 L2099.7,1400.5 L2113.4,1409.5 L2127.1,1419.7 L2140.8,1431.3 L2154.5,1444.0 L2168.2,1458.0 L2181.9,1473.1 L2195.6,1489.3 L2209.3,1506.5 L2223.0,1524.8 L2236.7,1543.9 L2250.3,1563.9 L2264.0,1584.7 L2277.7,1606.2 L2291.4,1628.4 L2305.1,1651.1 L2318.8,1674.4 L2332.5,1698.2 L2346.2,1722.3 L2359.9,1746.7 L2373.6,1771.4 L2387.3,1796.3 L2401.0,1821.3 L2414.6,1846.3 L2428.3,1871.4 L2442.0,1896.3 L2455.7,1921.2 L2469.4,1945.9 L2483.1,1970.3 L2496.8,1994.5 L2510.5,2018.4 L2524.2,2041.8 L2537.9,2064.9 L2551.6,2087.6 L2565.2,2109.7 L2578.9,2131.4 L2592.6,2152.5 L2606.3,2173.1 L2620.0,2193.1 L2633.7,2212.5 L2647.4,2231.3 L2661.1,2249.5 L2674.8,2267.1 L2688.5,2284.0 L2702.2,2300.2 L2715.8,2315.9 L2729.5,2330.9 L2743.2,2345.2 L2756.9,2359.0 L2770.6,2372.1 L2784.3,2384.6 L2798.0,2396.5 L2811.7,2407.8 L2825.4,2418.5 L2839.1,2428.7 L2852.8,2438.3 L2866.5,2447.3 L2880.1,2455.9 L2893.8,2464.0" fill="none" stroke="#FE53BB" stroke-opacity="0.027" stroke-width="51.75" stroke-linecap="square" stroke-linejoin="round"/>
<path d="M429.4,2565.1 L443.1,2565.1 L456.8,2565.0 L470.5,2565.0 L484.2,2564.9 L497.9,2564.8 L511.6,2564.7 L525.3,2564.6 L538.9,2564.5 L552.6,2564.3 L566.3,2564.2 L580.0,2564.0 L593.7,2563.8 L607.4,2563.5 L621.1,2563.3 L634.8,2563.0 L648.5,2562.7 L662.2,2562.3 L675.9,2561.9 L689.6,2561.5 L703.2,2561.0 L716.9,2560.4 L730.6,2559.8 L744.3,2559.1 L758.0,2558.3 L771.7,2557.5 L785.4,2556.6 L799.1,2555.6 L812.8,2554.5 L826.5,2553.2 L840.2,2551.9 L853.8,2550.4 L867.5,2548.8 L881.2,2547.0 L894.9,2545.1 L908.6,2542.9 L922.3,2540.6 L936.0,2538.1 L949.7,2535.4 L963.4,2532.5 L977.1,2529.3 L990.8,2525.8 L1004.4,2522.1 L1018.1,2518.0 L1031.8,2513.7 L1045.5,2509.0 L1059.2,2504.0 L1072.9,2498.6 L1086.6,2492.9 L1100.3,2486.7 L1114.0,2480.1 L1127.7,2473.1 L1141.4,2465.6 L1155.1,2457.6 L1168.7,2449.2 L1182.4,2440.2 L1196.1,2430.7 L1209.8,2420.7 L1223.5,2410.1 L1237.2,2398.9 L1250.9,2387.1 L1264.6,2374.8 L1278.3,2361.8 L1292.0,2348.2 L1305.7,2333.9 L1319.3,2319.1 L1333.0,2303.6 L1346.7,2287.4 L1360.4,2270.7 L1374.1,2253.2 L1387.8,2235.2 L1401.5,2216.5 L1415.2,2197.2 L1428.9,2177.4 L1442.6,2156.9 L1456.3,2135.9 L1469.9,2114.3 L1483.6,2092.3 L1497.3,2069.7 L1511.0,2046.7 L1524.7,2023.3 L1538.4,1999.5 L1552.1,1975.4 L1565.8,1951.0 L1579.5,1926.4 L1593.2,1901.6 L1606.9,1876.6 L1620.6,1851.6 L1634.2,1826.5 L1647.9,1801.5 L1661.6,1776.6 L1675.3,1751.9 L1689.0,1727.4 L1702.7,1703.2 L1716.4,1679.4 L1730.1,1656.0 L1743.8,1633.1 L1757.5,1610.8 L1771.2,1589.1 L1784.8,1568.2 L1798.5,1548.0 L1812.2,1528.7 L1825.9,1510.3 L1839.6,1492.8 L1853.3,1476.4 L1867.0,1461.1 L1880.7,1446.9 L1894.4,1433.8 L1908.1,1422.0 L1921.8,1411.5 L1935.5,1402.3 L1949.1,1394.4 L1962.8,1387.9 L1976.5,1382.7 L1990.2,1379.0 L2003.9,1376.7 L2017.6,1375.9 L2031.3,1376.4 L2045.0,1378.4 L2058.7,1381.8 L2072.4,1386.7 L2086.1,1392.9 L2099.7,1400.5 L2113.4,1409.5 L2127.1,1419.7 L2140.8,1431.3 L2154.5,1444.0 L2168.2,1458.0 L2181.9,1473.1 L2195.6,1489.3 L2209.3,1506.5 L2223.0,1524.8 L2236.7,1543.9 L2250.3,1563.9 L2264.0,1584.7 L2277.7,1606.2 L2291.4,1628.4 L2305.1,1651.1 L2318.8,1674.4 L2332.5,1698.2 L2346.2,1722.3 L2359.9,1746.7 L2373.6,1771.4 L2387.3,1796.3 L2401.0,1821.3 L2414.6,1846.3 L2428.3,1871.4 L2442.0,1896.3 L2455.7,1921.2 L2469.4,1945.9 L2483.1,1970.3 L2496.8,1994.5 L2510.5,2018.4 L2524.2,2041.8 L2537.9,2064.9 L2551.6,2087.6 L2565.2,2109.7 L2578.9,2131.4 L2592.6,2152.5 L2606.3,2173.1 L2620.0,2193.1 L2633.7,2212.5 L2647.4,2231.3 L2661.1,2249.5 L2674.8,2267.1 L2688.5,2284.0 L2702.2,2300.2 L2715.8,2315.9 L2729.5,2330.9 L2743.2,2345.2 L2756.9,2359.0 L2770.6,2372.1 L2784.3,2384.6 L2798.0,2396.5 L2811.7,2407.8 L2825.4,2418.5 L2839.1,2428.7 L2852.8,2438.3 L2866.5,2447.3 L2880.1,2455.9 L2893.8,2464.0" fill="none" stroke="#FE53BB" stroke-opacity="0.027" stroke-width="59.10" stroke-linecap="square" stroke-linejoin="round"/>
<path d="M429.4,2565.1 L443.1,2565.1 L456.8,2565.0 L470.5,2565.0 L484.2,2564.9 L497.9,2564.8 L511.6,2564.7 L525.3,2564.6 L538.9,2564.5 L552.6,2564.3 L566.3,2564.2 L580.0,2564.0 L593.7,2563.8 L607.4,2563.5 L621.1,2563.3 L634.8,2563.0 L648.5,2562.7 L662.2,2562.3 L675.9,2561.9 L689.6,2561.5 L703.2,2561.0 L716.9,2560.4 L730.6,2559.8 L744.3,2559.1 L758.0,2558.3 L771.7,2557.5 L785.4,2556.6 L799.1,2555.6 L812.8,2554.5 L826.5,2553.2 L840.2,2551.9 L853.8,2550.4 L867.5,2548.8 L881.2,2547.0 L894.9,2545.1 L908.6,2542.9 L922.3,2540.6 L936.0,2538.1 L949.7,2535.4 L963.4,2532.5 L977.1,2529.3 L990.8,2525.8 L1004.4,2522.1 L1018.1,2518.0 L1031.8,2513.7 L1045.5,2509.0 L1059.2,2504.0 L1072.9,2498.6 L1086.6,2492.9 L1100.3,2486.7 L1114.0,2480.1 L1127.7,2473.1 L1141.4,2465.6 L1155.1,2457.6 L1168.7,2449.2 L1182.4,2440.2 L1196.1,2430.7 L1209.8,2420.7 L1223.5,2410.1 L1237.2,2398.9 L1250.9,2387.1 L1264.6,2374.8 L1278.3,2361.8 L1292.0,2348.2 L1305.7,2333.9 L1319.3,2319.1 L1333.0,2303.6 L1346.7,2287.4 L1360.4,2270.7 L1374.1,2253.2 L1387.8,2235.2 L1401.5,2216.5 L1415.2,2197.2 L1428.9,2177.4 L1442.6,2156.9 L1456.3,2135.9 L1469.9,2114.3 L1483.6,2092.3 L1497.3,2069.7 L1511.0,2046.7 L1524.7,2023.3 L1538.4,1999.5 L1552.1,1975.4 L1565.8,1951.0 L1579.5,1926.4 L1593.2,1901.6 L1606.9,1876.6 L1620.6,1851.6 L1634.2,1826.5 L1647.9,1801.5 L1661.6,1776.6 L1675.3,1751.9 L1689.0,1727.4 L1702.7,1703.2 L1716.4,1679.4 L1730.1,1656.0 L1743.8,1633.1 L1757.5,1610.8 L1771.2,1589.1 L1784.8,1568.2 L1798.5,1548.0 L1812.2,1528.7 L1825.9,1510.3 L1839.6,1492.8 L1853.3,1476.4 L1867.0,1461.1 L1880.7,1446.9 L1894.4,1433.8 L1908.1,1422.0 L1921.8,1411.5 L1935.5,1402.3 L1949.1,1394.4 L1962.8,1387.9 L1976.5,1382.7 L1990.2,1379.0 L2003.9,1376.7 L2017.6,1375.9 L2031.3,1376.4 L2045.0,1378.4 L2058.7,1381.8 L2072.4,1386.7 L2086.1,1392.9 L2099.7,1400.5 L2113.4,1409.5 L2127.1,1419.7 L2140.8,1431.3 L2154.5,1444.0 L2168.2,1458.0 L2181.9,1473.1 L2195.6,1489.3 L2209.3,1506.5 L2223.0,1524.8 L2236.7,1543.9 L2250.3,1563.9 L2264.0,1584.7 L2277.7,1606.2 L2291.4,1628.4 L2305.1,1651.1 L2318.8,1674.4 L2332.5,1698.2 L2346.2,1722.3 L2359.9,1746.7 L2373.6,1771.4 L2387.3,1796.3 L2401.0,1821.3 L2414.6,1846.3 L2428.3,1871.4 L2442.0,1896.3 L2455.7,1921.2 L2469.4,1945.9 L2483.1,1970.3 L2496.8,1994.5 L2510.5,2018.4 L2524.2,2041.8 L2537.9,2064.9 L2551.6,2087.6 L2565.2,2109.7 L2578.9,2131.4 L2592.6,2152.5 L2606.3,2173.1 L2620.0,2193.1 L2633.7,2212.5 L2647.4,2231.3 L2661.1,2249.5 L2674.8,2267.1 L2688.5,2284.0 L2702.2,2300.2 L2715.8,2315.9 L2729.5,2330.9 L2743.2,2345.2 L2756.9,2359.0 L2770.6,2372.1 L2784.3,2384.6 L2798.0,2396.5 L2811.7,2407.8 L2825.4,2418.5 L2839.1,2428.7 L2852.8,2438.3 L2866.5,2447.3 L2880.1,2455.9 L2893.8,2464.0" fill="none" stroke="#FE53BB" stroke-opacity="0.027" stroke-width="66.45" stroke-linecap="square" stroke-linejoin="round"/>
<path d="M429.4,2565.1 L443.1,2565.1 L456.8,2565.0 L470.5,2565.0 L484.2,2564.9 L497.9,2564.8 L511.6,2564.7 L525.3,2564.6 L538.9,2564.5 L552.6,2564.3 L566.3,2564.2 L580.0,2564.0 L593.7,2563.8 L607.4,2563.5 L621.1,2563.3 L634.8,2563.0 L648.5,2562.7 L662.2,2562.3 L675.9,2561.9 L689.6,2561.5 L703.2,2561.0 L716.9,2560.4 L730.6,2559.8 L744.3,2559.1 L758.0,2558.3 L771.7,2557.5 L785.4,2556.6 L799.1,2555.6 L812.8,2554.5 L826.5,2553.2 L840.2,2551.9 L853.8,2550.4 L867.5,2548.8 L881.2,2547.0 L894.9,2545.1 L908.6,2542.9 L922.3,2540.6 L936.0,2538.1 L949.7,2535.4 L963.4,2532.5 L977.1,2529.3 L990.8,2525.8 L1004.4,2522.1 L1018.1,2518.0 L1031.8,2513.7 L1045.5,2509.0 L1059.2,2504.0 L1072.9,2498.6 L1086.6,2492.9 L1100.3,2486.7 L1114.0,2480.1 L1127.7,2473.1 L1141.4,2465.6 L1155.1,2457.6 L1168.7,2449.2 L1182.4,2440.2 L1196.1,2430.7 L1209.8,2420.7 L1223.5,2410.1 L1237.2,2398.9 L1250.9,2387.1 L1264.6,2374.8 L1278.3,2361.8 L1292.0,2348.2 L1305.7,2333.9 L1319.3,2319.1 L1333.0,2303.6 L1346.7,2287.4 L1360.4,2270.7 L1374.1,2253.2 L1387.8,2235.2 L1401.5,2216.5 L1415.2,2197.2 L1428.9,2177.4 L1442.6,2156.9 L1456.3,2135.9 L1469.9,2114.3 L1483.6,2092.3 L1497.3,2069.7 L1511.0,2046.7 L1524.7,2023.3 L1538.4,1999.5 L1552.1,1975.4 L1565.8,1951.0 L1579.5,1926.4 L1593.2,1901.6 L1606.9,1876.6 L1620.6,1851.6 L1634.2,1826.5 L1647.9,1801.5 L1661.6,1776.6 L1675.3,1751.9 L1689.0,1727.4 L1702.7,1703.2 L1716.4,1679.4 L1730.1,1656.0 L1743.8,1633.1 L1757.5,1610.8 L1771.2,1589.1 L1784.8,1568.2 L1798.5,1548.0 L1812.2,1528.7 L1825.9,1510.3 L1839.6,1492.8 L1853.3,1476.4 L1867.0,1461.1 L1880.7,1446.9 L1894.4,1433.8 L1908.1,1422.0 L1921.8,1411.5 L1935.5,1402.3 L1949.1,1394.4 L1962.8,1387.9 L1976.5,1382.7 L1990.2,1379.0 L2003.9,1376.7 L2017.6,1375.9 L2031.3,1376.4 L2045.0,1378.4 L2058.7,1381.8 L2072.4,1386.7 L2086.1,1392.9 L2099.7,1400.5 L2113.4,1409.5 L2127.1,1419.7 L2140.8,1431.3 L2154.5,1444.0 L2168.2,1458.0 L2181.9,1473.1 L2195.6,1489.3 L2209.3,1506.5 L2223.0,1524.8 L2236.7,1543.9 L2250.3,1563.9 L2264.0,1584.7 L2277.7,1606.2 L2291.4,1628.4 L2305.1,1651.1 L2318.8,1674.4 L2332.5,1698.2 L2346.2,1722.3 L2359.9,1746.7 L2373.6,1771.4 L2387.3,1796.3 L2401.0,1821.3 L2414.6,1846.3 L2428.3,1871.4 L2442.0,1896.3 L2455.7,1921.2 L2469.4,1945.9 L2483.1,1970.3 L2496.8,1994.5 L2510.5,2018.4 L2524.2,2041.8 L2537.9,2064.9 L2551.6,2087.6 L2565.2,2109.7 L2578.9,2131.4 L2592.6,2152.5 L2606.3,2173.1 L2620.0,2193.1 L2633.7,2212.5 L2647.4,2231.3 L2661.1,2249.5 L2674.8,2267.1 L2688.5,2284.0 L2702.2,2300.2 L2715.8,2315.9 L2729.5,2330.9 L2743.2,2345.2 L2756.9,2359.0 L2770.6,2372.1 L2784.3,2384.6 L2798.0,2396.5 L2811.7,2407.8 L2825.4,2418.5 L2839.1,2428.7 L2852.8,2438.3 L2866.5,2447.3 L2880.1,2455.9 L2893.8,2464.0" fill="none" stroke="#FE53BB" stroke-opacity="0.027" stroke-width="73.80" stroke-linecap="square" stroke-linejoin="round"/>
<path d="M429.4,2565.1 L443.1,2565.1 L456.8,2565.0 L470.5,2565.0 L484.2,2564.9 L497.9,2564.8 L511.6,2564.7 L525.3,2564.6 L538.9,2564.5 L552.6,2564.3 L566.3,2564.2 L580.0,2564.0 L593.7,2563.8 L607.4,2563.5 L621.1,2563.3 L634.8,2563.0 L648.5,2562.7 L662.2,2562.3 L675.9,2561.9 L689.6,2561.5 L703.2,2561.0 L716.9,2560.4 L730.6,2559.8 L744.3,2559.1 L758.0,2558.3 L771.7,2557.5 L785.4,2556.6 L799.1,2555.6 L812.8,2554.5 L826.5,2553.2 L840.2,2551.9 L853.8,2550.4 L867.5,2548.8 L881.2,2547.0 L894.9,2545.1 L908.6,2542.9 L922.3,2540.6 L936.0,2538.1 L949.7,2535.4 L963.4,2532.5 L977.1,2529.3 L990.8,2525.8 L1004.4,2522.1 L1018.1,2518.0 L1031.8,2513.7 L1045.5,2509.0 L1059.2,2504.0 L1072.9,2498.6 L1086.6,2492.9 L1100.3,2486.7 L1114.0,2480.1 L1127.7,2473.1 L1141.4,2465.6 L1155.1,2457.6 L1168.7,2449.2 L1182.4,2440.2 L1196.1,2430.7 L1209.8,2420.7 L1223.5,2410.1 L1237.2,2398.9 L1250.9,2387.1 L1264.6,2374.8 L1278.3,2361.8 L1292.0,2348.2 L1305.7,2333.9 L1319.3,2319.1 L1333.0,2303.6 L1346.7,2287.4 L1360.4,2270.7 L1374.1,2253.2 L1387.8,2235.2 L1401.5,2216.5 L1415.2,2197.2 L1428.9,2177.4 L1442.6,2156.9 L1456.3,2135.9 L1469.9,2114.3 L1483.6,2092.3 L1497.3,2069.7 L1511.0,2046.7 L1524.7,2023.3 L1538.4,1999.5 L1552.1,1975.4 L1565.8,1951.0 L1579.5,1926.4 L1593.2,1901.6 L1606.9,1876.6 L1620.6,1851.6 L1634.2,1826.5 L1647.9,1801.5 L1661.6,1776.6 L1675.3,1751.9 L1689.0,1727.4 L1702.7,1703.2 L1716.4,1679.4 L1730.1,1656.0 L1743.8,1633.1 L1757.5,1610.8 L1771.2,1589.1 L1784.8,1568.2 L1798.5,1548.0 L1812.2,1528.7 L1825.9,1510.3 L1839.6,1492.8 L1853.3,1476.4 L1867.0,1461.1 L1880.7,1446.9 L1894.4,1433.8 L1908.1,1422.0 L1921.8,1411.5 L1935.5,1402.3 L1949.1,1394.4 L1962.8,1387.9 L1976.5,1382.7 L1990.2,1379.0 L2003.9,1376.7 L2017.6,1375.9 L2031.3,1376.4 L2045.0,1378.4 L2058.7,1381.8 L2072.4,1386.7 L2086.1,1392.9 L2099.7,1400.5 L2113.4,1409.5 L2127.1,1419.7 L2140.8,1431.3 L2154.5,1444.0 L2168.2,1458.0 L2181.9,1473.1 L2195.6,1489.3 L2209.3,1506.5 L2223.0,1524.8 L2236.7,1543.9 L2250.3,1563.9 L2264.0,1584.7 L2277.7,1606.2 L2291.4,1628.4 L2305.1,1651.1 L2318.8,1674.4 L2332.5,1698.2 L2346.2,1722.3 L2359.9,1746.7 L2373.6,1771.4 L2387.3,1796.3 L2401.0,1821.3 L2414.6,1846.3 L2428.3,1871.4 L2442.0,1896.3 L2455.7,1921.2 L2469.4,1945.9 L2483.1,1970.3 L2496.8,1994.5 L2510.5,2018.4 L2524.2,2041.8 L2537.9,2064.9 L2551.6,2087.6 L2565.2,2109.7 L2578.9,2131.4 L2592.6,2152.5 L2606.3,2173.1 L2620.0,2193.1 L2633.7,2212.5 L2647.4,2231.3 L2661.1,2249.5 L2674.8,2267.1 L2688.5,2284.0 L2702.2,2300.2 L2715.8,2315.9 L2729.5,2330.9 L2743.2,2345.2 L2756.9,2359.0 L2770.6,2372.1 L2784.3,2384.6 L2798.0,2396.5 L2811.7,2407.8 L2825.4,2418.5 L2839.1,2428.7 L2852.8,2438.3 L2866.5,2447.3 L2880.1,2455.9 L2893.8,2464.0" fill="none" stroke="#FE53BB" stroke-opacity="0.027" stroke-width="81.15" stroke-linecap="square" stroke-linejoin="round"/>
<path d="M429.4,2565.1 L443.1,2565.1 L456.8,2565.0 L470.5,2565.0 L484.2,2564.9 L497.9,2564.8 L511.6,2564.7 L525.3,2564.6 L538.9,2564.5 L552.6,2564.3 L566.3,2564.2 L580.0,2564.0 L593.7,2563.8 L607.4,2563.5 L621.1,2563.3 L634.8,2563.0 L648.5,2562.7 L662.2,2562.3 L675.9,2561.9 L689.6,2561.5 L703.2,2561.0 L716.9,2560.4 L730.6,2559.8 L744.3,2559.1 L758.0,2558.3 L771.7,2557.5 L785.4,2556.6 L799.1,2555.6 L812.8,2554.5 L826.5,2553.2 L840.2,2551.9 L853.8,2550.4 L867.5,2548.8 L881.2,2547.0 L894.9,2545.1 L908.6,2542.9 L922.3,2540.6 L936.0,2538.1 L949.7,2535.4 L963.4,2532.5 L977.1,2529.3 L990.8,2525.8 L1004.4,2522.1 L1018.1,2518.0 L1031.8,2513.7 L1045.5,2509.0 L1059.2,2504.0 L1072.9,2498.6 L1086.6,2492.9 L1100.3,2486.7 L1114.0,2480.1 L1127.7,2473.1 L1141.4,2465.6 L1155.1,2457.6 L1168.7,2449.2 L1182.4,2440.2 L1196.1,2430.7 L1209.8,2420.7 L1223.5,2410.1 L1237.2,2398.9 L1250.9,2387.1 L1264.6,2374.8 L1278.3,2361.8 L1292.0,2348.2 L1305.7,2333.9 L1319.3,2319.1 L1333.0,2303.6 L1346.7,2287.4 L1360.4,2270.7 L1374.1,2253.2 L1387.8,2235.2 L1401.5,2216.5 L1415.2,2197.2 L1428.9,2177.4 L1442.6,2156.9 L1456.3,2135.9 L1469.9,2114.3 L1483.6,2092.3 L1497.3,2069.7 L1511.0,2046.7 L1524.7,2023.3 L1538.4,1999.5 L1552.1,1975.4 L1565.8,1951.0 L1579.5,1926.4 L1593.2,1901.6 L1606.9,1876.6 L1620.6,1851.6 L1634.2,1826.5 L1647.9,1801.5 L1661.6,1776.6 L1675.3,1751.9 L1689.0,1727.4 L1702.7,1703.2 L1716.4,1679.4 L1730.1,1656.0 L1743.8,1633.1 L1757.5,1610.8 L1771.2,1589.1 L1784.8,1568.2 L1798.5,1548.0 L1812.2,1528.7 L1825.9,1510.3 L1839.6,1492.8 L1853.3,1476.4 L1867.0,1461.1 L1880.7,1446.9 L1894.4,1433.8 L1908.1,1422.0 L1921.8,1411.5 L1935.5,1402.3 L1949.1,1394.4 L1962.8,1387.9 L1976.5,1382.7 L1990.2,1379.0 L2003.9,1376.7 L2017.6,1375.9 L2031.3,1376.4 L2045.0,1378.4 L2058.7,1381.8 L2072.4,1386.7 L2086.1,1392.9 L2099.7,1400.5 L2113.4,1409.5 L2127.1,1419.7 L2140.8,1431.3 L2154.5,1444.0 L2168.2,1458.0 L2181.9,1473.1 L2195.6,1489.3 L2209.3,1506.5 L2223.0,1524.8 L2236.7,1543.9 L2250.3,1563.9 L2264.0,1584.7 L2277.7,1606.2 L2291.4,1628.4 L2305.1,1651.1 L2318.8,1674.4 L2332.5,1698.2 L2346.2,1722.3 L2359.9,1746.7 L2373.6,1771.4 L2387.3,1796.3 L2401.0,1821.3 L2414.6,1846.3 L2428.3,1871.4 L2442.0,1896.3 L2455.7,1921.2 L2469.4,1945.9 L2483.1,1970.3 L2496.8,1994.5 L2510.5,2018.4 L2524.2,2041.8 L2537.9,2064.9 L2551.6,2087.6 L2565.2,2109.7 L2578.9,2131.4 L2592.6,2152.5 L2606.3,2173.1 L2620.0,2193.1 L2633.7,2212.5 L2647.4,2231.3 L2661.1,2249.5 L2674.8,2267.1 L2688.5,2284.0 L2702.2,2300.2 L2715.8,2315.9 L2729.5,2330.9 L2743.2,2345.2 L2756.9,2359.0 L2770.6,2372.1 L2784.3,2384.6 L2798.0,2396.5 L2811.7,2407.8 L2825.4,2418.5 L2839.1,2428.7 L2852.8,2438.3 L2866.5,2447.3 L2880.1,2455.9 L2893.8,2464.0" fill="none" stroke="#FE53BB" stroke-opacity="0.027" stroke-width="88.50" stroke-linecap="square" stroke-linejoin="round"/>
<path d="M429.4,2565.1 L443.1,2565.0 L456.8,2564.9 L470.5,2564.7 L484.2,2564.5 L497.9,2564.3 L511.6,2564.0 L525.3,2563.7 L538.9,2563.2 L552.6,2562.7 L566.3,2562.1 L580.0,2561.4 L593.7,2560.5 L607.4,2559.5 L621.1,2558.3 L634.8,2556.9 L648.5,2555.1 L662.2,2553.1 L675.9,2550.8 L689.6,2548.1 L703.2,2544.9 L716.9,2541.2 L730.6,2536.9 L744.3,2532.0 L758.0,2526.4 L771.7,2520.0 L785.4,2512.6 L799.1,2504.3 L812.8,2494.9 L826.5,2484.2 L840.2,2472.3 L853.8,2458.9 L867.5,2444.0 L881.2,2427.4 L894.9,2409.0 L908.6,2388.8 L922.3,2366.5 L936.0,2342.0 L949.7,2315.4 L963.4,2286.4 L977.1,2255.0 L990.8,2221.1 L1004.4,2184.7 L1018.1,2145.7 L1031.8,2104.2 L1045.5,2060.0 L1059.2,2013.4 L1072.9,1964.3 L1086.6,1912.8 L1100.3,1859.0 L1114.0,1803.2 L1127.7,1745.4 L1141.4,1686.0 L1155.1,1625.1 L1168.7,1563.1 L1182.4,1500.2 L1196.1,1436.9 L1209.8,1373.4 L1223.5,1310.2 L1237.2,1247.6 L1250.9,1186.2 L1264.6,1126.3 L1278.3,1068.4 L1292.0,1012.9 L1305.7,960.3 L1319.3,910.9 L1333.0,865.2 L1346.7,823.6 L1360.4,786.3 L1374.1,753.9 L1387.8,726.4 L1401.5,704.3 L1415.2,687.6 L1428.9,676.5 L1442.6,671.2 L1456.3,671.6 L1469.9,677.8 L1483.6,689.7 L1497.3,707.3 L1511.0,730.2 L1524.7,758.4 L1538.4,791.6 L1552.1,829.5 L1565.8,871.8 L1579.5,918.1 L1593.2,968.0 L1606.9,1021.1 L1620.6,1077.0 L1634.2,1135.2 L1647.9,1195.3 L1661.6,1257.0 L1675.3,1319.6 L1689.0,1382.9 L1702.7,1446.4 L1716.4,1509.7 L1730.1,1572.4 L1743.8,1634.3 L1757.5,1695.0 L1771.2,1754.2 L1784.8,1811.7 L1798.5,1867.2 L1812.2,1920.6 L1825.9,1971.8 L1839.6,2020.5 L1853.3,2066.8 L1867.0,2110.6 L1880.7,2151.7 L1894.4,2190.3 L1908.1,2226.4 L1921.8,2259.9 L1935.5,2290.9 L1949.1,2319.5 L1962.8,2345.8 L1976.5,2369.9 L1990.2,2391.9 L2003.9,2411.9 L2017.6,2430.0 L2031.3,2446.3 L2045.0,2461.0 L2058.7,2474.2 L2072.4,2485.9 L2086.1,2496.4 L2099.7,2505.6 L2113.4,2513.8 L2127.1,2521.0 L2140.8,2527.3 L2154.5,2532.8 L2168.2,2537.6 L2181.9,2541.8 L2195.6,2545.4 L2209.3,2548.5 L2223.0,2551.2 L2236.7,2553.5 L2250.3,2555.4 L2264.0,2557.1 L2277.7,2558.5 L2291.4,2559.7 L2305.1,2560.7 L2318.8,2561.5 L2332.5,2562.2 L2346.2,2562.8 L2359.9,2563.3 L2373.6,2563.7 L2387.3,2564.1 L2401.0,2564.3 L2414.6,2564.6 L2428.3,2564.7 L2442.0,2564.9 L2455.7,2565.0 L2469.4,2565.1 L2483.1,2565.2 L2496.8,2565.3 L2510.5,2565.3 L2524.2,2565.3 L2537.9,2565.4 L2551.6,2565.4 L2565.2,2565.4 L2578.9,2565.4 L2592.6,2565.5 L2606.3,2565.5 L2620.0,2565.5 L2633.7,2565.5 L2647.4,2565.5 L2661.1,2565.5 L2674.8,2565.5 L2688.5,2565.5 L2702.2,2565.5 L2715.8,2565.5 L2729.5,2565.5 L2743.2,2565.5 L2756.9,2565.5 L2770.6,2565.5 L2784.3,2565.5 L2798.0,2565.5 L2811.7,2565.5 L2825.4,2565.5 L2839.1,2565.5 L2852.8,2565.5 L2866.5,2565.5 L2880.1,2565.5 L2893.8,2565.5" fill="none" stroke="#F5D300" stroke-opacity="0.027" stroke-width="23.85" stroke-linecap="square" stroke-linejoin="round"/>
<path d="M429.4,2565.1 L443.1,2565.0 L456.8,2564.9 L470.5,2564.7 L484.2,2564.5 L497.9,2564.3 L511.6,2564.0 L525.3,2563.7 L538.9,2563.2 L552.6,2562.7 L566.3,2562.1 L580.0,2561.4 L593.7,2560.5 L607.4,2559.5 L621.1,2558.3 L634.8,2556.9 L648.5,2555.1 L662.2,2553.1 L675.9,2550.8 L689.6,2548.1 L703.2,2544.9 L716.9,2541.2 L730.6,2536.9 L744.3,2532.0 L758.0,2526.4 L771.7,2520.0 L785.4,2512.6 L799.1,2504.3 L812.8,2494.9 L826.5,2484.2 L840.2,2472.3 L853.8,2458.9 L867.5,2444.0 L881.2,2427.4 L894.9,2409.0 L908.6,2388.8 L922.3,2366.5 L936.0,2342.0 L949.7,2315.4 L963.4,2286.4 L977.1,2255.0 L990.8,2221.1 L1004.4,2184.7 L1018.1,2145.7 L1031.8,2104.2 L1045.5,2060.0 L1059.2,2013.4 L1072.9,1964.3 L1086.6,1912.8 L1100.3,1859.0 L1114.0,1803.2 L1127.7,1745.4 L1141.4,1686.0 L1155.1,1625.1 L1168.7,1563.1 L1182.4,1500.2 L1196.1,1436.9 L1209.8,1373.4 L1223.5,1310.2 L1237.2,1247.6 L1250.9,1186.2 L1264.6,1126.3 L1278.3,1068.4 L1292.0,1012.9 L1305.7,960.3 L1319.3,910.9 L1333.0,865.2 L1346.7,823.6 L1360.4,786.3 L1374.1,753.9 L1387.8,726.4 L1401.5,704.3 L1415.2,687.6 L1428.9,676.5 L1442.6,671.2 L1456.3,671.6 L1469.9,677.8 L1483.6,689.7 L1497.3,707.3 L1511.0,730.2 L1524.7,758.4 L1538.4,791.6 L1552.1,829.5 L1565.8,871.8 L1579.5,918.1 L1593.2,968.0 L1606.9,1021.1 L1620.6,1077.0 L1634.2,1135.2 L1647.9,1195.3 L1661.6,1257.0 L1675.3,1319.6 L1689.0,1382.9 L1702.7,1446.4 L1716.4,1509.7 L1730.1,1572.4 L1743.8,1634.3 L1757.5,1695.0 L1771.2,1754.2 L1784.8,1811.7 L1798.5,1867.2 L1812.2,1920.6 L1825.9,1971.8 L1839.6,2020.5 L1853.3,2066.8 L1867.0,2110.6 L1880.7,2151.7 L1894.4,2190.3 L1908.1,2226.4 L1921.8,2259.9 L1935.5,2290.9 L1949.1,2319.5 L1962.8,2345.8 L1976.5,2369.9 L1990.2,2391.9 L2003.9,2411.9 L2017.6,2430.0 L2031.3,2446.3 L2045.0,2461.0 L2058.7,2474.2 L2072.4,2485.9 L2086.1,2496.4 L2099.7,2505.6 L2113.4,2513.8 L2127.1,2521.0 L2140.8,2527.3 L2154.5,2532.8 L2168.2,2537.6 L2181.9,2541.8 L2195.6,2545.4 L2209.3,2548.5 L2223.0,2551.2 L2236.7,2553.5 L2250.3,2555.4 L2264.0,2557.1 L2277.7,2558.5 L2291.4,2559.7 L2305.1,2560.7 L2318.8,2561.5 L2332.5,2562.2 L2346.2,2562.8 L2359.9,2563.3 L2373.6,2563.7 L2387.3,2564.1 L2401.0,2564.3 L2414.6,2564.6 L2428.3,2564.7 L2442.0,2564.9 L2455.7,2565.0 L2469.4,2565.1 L2483.1,2565.2 L2496.8,2565.3 L2510.5,2565.3 L2524.2,2565.3 L2537.9,2565.4 L2551.6,2565.4 L2565.2,2565.4 L2578.9,2565.4 L2592.6,2565.5 L2606.3,2565.5 L2620.0,2565.5 L2633.7,2565.5 L2647.4,2565.5 L2661.1,2565.5 L2674.8,2565.5 L2688.5,2565.5 L2702.2,2565.5 L2715.8,2565.5 L2729.5,2565.5 L2743.2,2565.5 L2756.9,2565.5 L2770.6,2565.5 L2784.3,2565.5 L2798.0,2565.5 L2811.7,2565.5 L2825.4,2565.5 L2839.1,2565.5 L2852.8,2565.5 L2866.5,2565.5 L2880.1,2565.5 L2893.8,2565.5" fill="none" stroke="#F5D300" stroke-opacity="0.027" stroke-width="31.20" stroke-linecap="square" stroke-linejoin="round"/>
<path d="M429.4,2565.1 L443.1,2565.0 L456.8,2564.9 L470.5,2564.7 L484.2,2564.5 L497.9,2564.3 L511.6,2564.0 L525.3,2563.7 L538.9,2563.2 L552.6,2562.7 L566.3,2562.1 L580.0,2561.4 L593.7,2560.5 L607.4,2559.5 L621.1,2558.3 L634.8,2556.9 L648.5,2555.1 L662.2,2553.1 L675.9,2550.8 L689.6,2548.1 L703.2,2544.9 L716.9,2541.2 L730.6,2536.9 L744.3,2532.0 L758.0,2526.4 L771.7,2520.0 L785.4,2512.6 L799.1,2504.3 L812.8,2494.9 L826.5,2484.2 L840.2,2472.3 L853.8,2458.9 L867.5,2444.0 L881.2,2427.4 L894.9,2409.0 L908.6,2388.8 L922.3,2366.5 L936.0,2342.0 L949.7,2315.4 L963.4,2286.4 L977.1,2255.0 L990.8,2221.1 L1004.4,2184.7 L1018.1,2145.7 L1031.8,2104.2 L1045.5,2060.0 L1059.2,2013.4 L1072.9,1964.3 L1086.6,1912.8 L1100.3,1859.0 L1114.0,1803.2 L1127.7,1745.4 L1141.4,1686.0 L1155.1,1625.1 L1168.7,1563.1 L1182.4,1500.2 L1196.1,1436.9 L1209.8,1373.4 L1223.5,1310.2 L1237.2,1247.6 L1250.9,1186.2 L1264.6,1126.3 L1278.3,1068.4 L1292.0,1012.9 L1305.7,960.3 L1319.3,910.9 L1333.0,865.2 L1346.7,823.6 L1360.4,786.3 L1374.1,753.9 L1387.8,726.4 L1401.5,704.3 L1415.2,687.6 L1428.9,676.5 L1442.6,671.2 L1456.3,671.6 L1469.9,677.8 L1483.6,689.7 L1497.3,707.3 L1511.0,730.2 L1524.7,758.4 L1538.4,791.6 L1552.1,829.5 L1565.8,871.8 L1579.5,918.1 L1593.2,968.0 L1606.9,1021.1 L1620.6,1077.0 L1634.2,1135.2 L1647.9,1195.3 L1661.6,1257.0 L1675.3,1319.6 L1689.0,1382.9 L1702.7,1446.4 L1716.4,1509.7 L1730.1,1572.4 L1743.8,1634.3 L1757.5,1695.0 L1771.2,1754.2 L1784.8,1811.7 L1798.5,1867.2 L1812.2,1920.6 L1825.9,1971.8 L1839.6,2020.5 L1853.3,2066.8 L1867.0,2110.6 L1880.7,2151.7 L1894.4,2190.3 L1908.1,2226.4 L1921.8,2259.9 L1935.5,2290.9 L1949.1,2319.5 L1962.8,2345.8 L1976.5,2369.9 L1990.2,2391.9 L2003.9,2411.9 L2017.6,2430.0 L2031.3,2446.3 L2045.0,2461.0 L2058.7,2474.2 L2072.4,2485.9 L2086.1,2496.4 L2099.7,2505.6 L2113.4,2513.8 L2127.1,2521.0 L2140.8,2527.3 L2154.5,2532.8 L2168.2,2537.6 L2181.9,2541.8 L2195.6,2545.4 L2209.3,2548.5 L2223.0,2551.2 L2236.7,2553.5 L2250.3,2555.4 L2264.0,2557.1 L2277.7,2558.5 L2291.4,2559.7 L2305.1,2560.7 L2318.8,2561.5 L2332.5,2562.2 L2346.2,2562.8 L2359.9,2563.3 L2373.6,2563.7 L2387.3,2564.1 L2401.0,2564.3 L2414.6,2564.6 L2428.3,2564.7 L2442.0,2564.9 L2455.7,2565.0 L2469.4,2565.1 L2483.1,2565.2 L2496.8,2565.3 L2510.5,2565.3 L2524.2,2565.3 L2537.9,2565.4 L2551.6,2565.4 L2565.2,2565.4 L2578.9,2565.4 L2592.6,2565.5 L2606.3,2565.5 L2620.0,2565.5 L2633.7,2565.5 L2647.4,2565.5 L2661.1,2565.5 L2674.8,2565.5 L2688.5,2565.5 L2702.2,2565.5 L2715.8,2565.5 L2729.5,2565.5 L2743.2,2565.5 L2756.9,2565.5 L2770.6,2565.5 L2784.3,2565.5 L2798.0,2565.5 L2811.7,2565.5 L2825.4,2565.5 L2839.1,2565.5 L2852.8,2565.5 L2866.5,2565.5 L2880.1,2565.5 L2893.8,2565.5" fill="none" stroke="#F5D300" stroke-opacity="0.027" stroke-width="38.55" stroke-linecap="square" stroke-linejoin="round"/>
<path d="M429.4,2565.1 L443.1,2565.0 L456.8,2564.9 L470.5,2564.7 L484.2,2564.5 L497.9,2564.3 L511.6,2564.0 L525.3,2563.7 L538.9,2563.2 L552.6,2562.7 L566.3,2562.1 L580.0,2561.4 L593.7,2560.5 L607.4,2559.5 L621.1,2558.3 L634.8,2556.9 L648.5,2555.1 L662.2,2553.1 L675.9,2550.8 L689.6,2548.1 L703.2,2544.9 L716.9,2541.2 L730.6,2536.9 L744.3,2532.0 L758.0,2526.4 L771.7,2520.0 L785.4,2512.6 L799.1,2504.3 L812.8,2494.9 L826.5,2484.2 L840.2,2472.3 L853.8,2458.9 L867.5,2444.0 L881.2,2427.4 L894.9,2409.0 L908.6,2388.8 L922.3,2366.5 L936.0,2342.0 L949.7,2315.4 L963.4,2286.4 L977.1,2255.0 L990.8,2221.1 L1004.4,2184.7 L1018.1,2145.7 L1031.8,2104.2 L1045.5,2060.0 L1059.2,2013.4 L1072.9,1964.3 L1086.6,1912.8 L1100.3,1859.0 L1114.0,1803.2 L1127.7,1745.4 L1141.4,1686.0 L1155.1,1625.1 L1168.7,1563.1 L1182.4,1500.2 L1196.1,1436.9 L1209.8,1373.4 L1223.5,1310.2 L1237.2,1247.6 L1250.9,1186.2 L1264.6,1126.3 L1278.3,1068.4 L1292.0,1012.9 L1305.7,960.3 L1319.3,910.9 L1333.0,865.2 L1346.7,823.6 L1360.4,786.3 L1374.1,753.9 L1387.8,726.4 L1401.5,704.3 L1415.2,687.6 L1428.9,676.5 L1442.6,671.2 L1456.3,671.6 L1469.9,677.8 L1483.6,689.7 L1497.3,707.3 L1511.0,730.2 L1524.7,758.4 L1538.4,791.6 L1552.1,829.5 L1565.8,871.8 L1579.5,918.1 L1593.2,968.0 L1606.9,1021.1 L1620.6,1077.0 L1634.2,1135.2 L1647.9,1195.3 L1661.6,1257.0 L1675.3,1319.6 L1689.0,1382.9 L1702.7,1446.4 L1716.4,1509.7 L1730.1,1572.4 L1743.8,1634.3 L1757.5,1695.0 L1771.2,1754.2 L1784.8,1811.7 L1798.5,1867.2 L1812.2,1920.6 L1825.9,1971.8 L1839.6,2020.5 L1853.3,2066.8 L1867.0,2110.6 L1880.7,2151.7 L1894.4,2190.3 L1908.1,2226.4 L1921.8,2259.9 L1935.5,2290.9 L1949.1,2319.5 L1962.8,2345.8 L1976.5,2369.9 L1990.2,2391.9 L2003.9,2411.9 L2017.6,2430.0 L2031.3,2446.3 L2045.0,2461.0 L2058.7,2474.2 L2072.4,2485.9 L2086.1,2496.4 L2099.7,2505.6 L2113.4,2513.8 L2127.1,2521.0 L2140.8,2527.3 L2154.5,2532.8 L2168.2,2537.6 L2181.9,2541.8 L2195.6,2545.4 L2209.3,2548.5 L2223.0,2551.2 L2236.7,2553.5 L2250.3,2555.4 L2264.0,2557.1 L2277.7,2558.5 L2291.4,2559.7 L2305.1,2560.7 L2318.8,2561.5 L2332.5,2562.2 L2346.2,2562.8 L2359.9,2563.3 L2373.6,2563.7 L2387.3,2564.1 L2401.0,2564.3 L2414.6,2564.6 L2428.3,2564.7 L2442.0,2564.9 L2455.7,2565.0 L2469.4,2565.1 L2483.1,2565.2 L2496.8,2565.3 L2510.5,2565.3 L2524.2,2565.3 L2537.9,2565.4 L2551.6,2565.4 L2565.2,2565.4 L2578.9,2565.4 L2592.6,2565.5 L2606.3,2565.5 L2620.0,2565.5 L2633.7,2565.5 L2647.4,2565.5 L2661.1,2565.5 L2674.8,2565.5 L2688.5,2565.5 L2702.2,2565.5 L2715.8,2565.5 L2729.5,2565.5 L2743.2,2565.5 L2756.9,2565.5 L2770.6,2565.5 L2784.3,2565.5 L2798.0,2565.5 L2811.7,2565.5 L2825.4,2565.5 L2839.1,2565.5 L2852.8,2565.5 L2866.5,2565.5 L2880.1,2565.5 L2893.8,2565.5" fill="none" stroke="#F5D300" stroke-opacity="0.027" stroke-width="45.90" stroke-linecap="square" stroke-linejoin="round"/>
<path d="M429.4,2565.1 L443.1,2565.0 L456.8,2564.9 L470.5,2564.7 L484.2,2564.5 L497.9,2564.3 L511.6,2564.0 L525.3,2563.7 L538.9,2563.2 L552.6,2562.7 L566.3,2562.1 L580.0,2561.4 L593.7,2560.5 L607.4,2559.5 L621.1,2558.3 L634.8,2556.9 L648.5,2555.1 L662.2,2553.1 L675.9,2550.8 L689.6,2548.1 L703.2,2544.9 L716.9,2541.2 L730.6,2536.9 L744.3,2532.0 L758.0,2526.4 L771.7,2520.0 L785.4,2512.6 L799.1,2504.3 L812.8,2494.9 L826.5,2484.2 L840.2,2472.3 L853.8,2458.9 L867.5,2444.0 L881.2,2427.4 L894.9,2409.0 L908.6,2388.8 L922.3,2366.5 L936.0,2342.0 L949.7,2315.4 L963.4,2286.4 L977.1,2255.0 L990.8,2221.1 L1004.4,2184.7 L1018.1,2145.7 L1031.8,2104.2 L1045.5,2060.0 L1059.2,2013.4 L1072.9,1964.3 L1086.6,1912.8 L1100.3,1859.0 L1114.0,1803.2 L1127.7,1745.4 L1141.4,1686.0 L1155.1,1625.1 L1168.7,1563.1 L1182.4,1500.2 L1196.1,1436.9 L1209.8,1373.4 L1223.5,1310.2 L1237.2,1247.6 L1250.9,1186.2 L1264.6,1126.3 L1278.3,1068.4 L1292.0,1012.9 L1305.7,960.3 L1319.3,910.9 L1333.0,865.2 L1346.7,823.6 L1360.4,786.3 L1374.1,753.9 L1387.8,726.4 L1401.5,704.3 L1415.2,687.6 L1428.9,676.5 L1442.6,671.2 L1456.3,671.6 L1469.9,677.8 L1483.6,689.7 L1497.3,707.3 L1511.0,730.2 L1524.7,758.4 L1538.4,791.6 L1552.1,829.5 L1565.8,871.8 L1579.5,918.1 L1593.2,968.0 L1606.9,1021.1 L1620.6,1077.0 L1634.2,1135.2 L1647.9,1195.3 L1661.6,1257.0 L1675.3,1319.6 L1689.0,1382.9 L1702.7,1446.4 L1716.4,1509.7 L1730.1,1572.4 L1743.8,1634.3 L1757.5,1695.0 L1771.2,1754.2 L1784.8,1811.7 L1798.5,1867.2 L1812.2,1920.6 L1825.9,1971.8 L1839.6,2020.5 L1853.3,2066.8 L1867.0,2110.6 L1880.7,2151.7 L1894.4,2190.3 L1908.1,2226.4 L1921.8,2259.9 L1935.5,2290.9 L1949.1,2319.5 L1962.8,2345.8 L1976.5,2369.9 L1990.2,2391.9 L2003.9,2411.9 L2017.6,2430.0 L2031.3,2446.3 L2045.0,2461.0 L2058.7,2474.2 L2072.4,2485.9 L2086.1,2496.4 L2099.7,2505.6 L2113.4,2513.8 L2127.1,2521.0 L2140.8,2527.3 L2154.5,2532.8 L2168.2,2537.6 L2181.9,2541.8 L2195.6,2545.4 L2209.3,2548.5 L2223.0,2551.2 L2236.7,2553.5 L2250.3,2555.4 L2264.0,2557.1 L2277.7,2558.5 L2291.4,2559.7 L2305.1,2560.7 L2318.8,2561.5 L2332.5,2562.2 L2346.2,2562.8 L2359.9,2563.3 L2373.6,2563.7 L2387.3,2564.1 L2401.0,2564.3 L2414.6,2564.6 L2428.3,2564.7 L2442.0,2564.9 L2455.7,2565.0 L2469.4,2565.1 L2483.1,2565.2 L2496.8,2565.3 L2510.5,2565.3 L2524.2,2565.3 L2537.9,2565.4 L2551.6,2565.4 L2565.2,2565.4 L2578.9,2565.4 L2592.6,2565.5 L2606.3,2565.5 L2620.0,2565.5 L2633.7,2565.5 L2647.4,2565.5 L2661.1,2565.5 L2674.8,2565.5 L2688.5,2565.5 L2702.2,2565.5 L2715.8,2565.5 L2729.5,2565.5 L2743.2,2565.5 L2756.9,2565.5 L2770.6,2565.5 L2784.3,2565.5 L2798.0,2565.5 L2811.7,2565.5 L2825.4,2565.5 L2839.1,2565.5 L2852.8,2565.5 L2866.5,2565.5 L2880.1,2565.5 L2893.8,2565.5" fill="none" stroke="#F5D300" stroke-opacity="0.027" stroke-width="53.25" stroke-linecap="square" stroke-linejoin="round"/>
<path d="M429.4,2565.1 L443.1,2565.0 L456.8,2564.9 L470.5,2564.7 L484.2,2564.5 L497.9,2564.3 L511.6,2564.0 L525.3,2563.7 L538.9,2563.2 L552.6,2562.7 L566.3,2562.1 L580.0,2561.4 L593.7,2560.5 L607.4,2559.5 L621.1,2558.3 L634.8,2556.9 L648.5,2555.1 L662.2,2553.1 L675.9,2550.8 L689.6,2548.1 L703.2,2544.9 L716.9,2541.2 L730.6,2536.9 L744.3,2532.0 L758.0,2526.4 L771.7,2520.0 L785.4,2512.6 L799.1,2504.3 L812.8,2494.9 L826.5,2484.2 L840.2,2472.3 L853.8,2458.9 L867.5,2444.0 L881.2,2427.4 L894.9,2409.0 L908.6,2388.8 L922.3,2366.5 L936.0,2342.0 L949.7,2315.4 L963.4,2286.4 L977.1,2255.0 L990.8,2221.1 L1004.4,2184.7 L1018.1,2145.7 L1031.8,2104.2 L1045.5,2060.0 L1059.2,2013.4 L1072.9,1964.3 L1086.6,1912.8 L1100.3,1859.0 L1114.0,1803.2 L1127.7,1745.4 L1141.4,1686.0 L1155.1,1625.1 L1168.7,1563.1 L1182.4,1500.2 L1196.1,1436.9 L1209.8,1373.4 L1223.5,1310.2 L1237.2,1247.6 L1250.9,1186.2 L1264.6,1126.3 L1278.3,1068.4 L1292.0,1012.9 L1305.7,960.3 L1319.3,910.9 L1333.0,865.2 L1346.7,823.6 L1360.4,786.3 L1374.1,753.9 L1387.8,726.4 L1401.5,704.3 L1415.2,687.6 L1428.9,676.5 L1442.6,671.2 L1456.3,671.6 L1469.9,677.8 L1483.6,689.7 L1497.3,707.3 L1511.0,730.2 L1524.7,758.4 L1538.4,791.6 L1552.1,829.5 L1565.8,871.8 L1579.5,918.1 L1593.2,968.0 L1606.9,1021.1 L1620.6,1077.0 L1634.2,1135.2 L1647.9,1195.3 L1661.6,1257.0 L1675.3,1319.6 L1689.0,1382.9 L1702.7,1446.4 L1716.4,1509.7 L1730.1,1572.4 L1743.8,1634.3 L1757.5,1695.0 L1771.2,1754.2 L1784.8,1811.7 L1798.5,1867.2 L1812.2,1920.6 L1825.9,1971.8 L1839.6,2020.5 L1853.3,2066.8 L1867.0,2110.6 L1880.7,2151.7 L1894.4,2190.3 L1908.1,2226.4 L1921.8,2259.9 L1935.5,2290.9 L1949.1,2319.5 L1962.8,2345.8 L1976.5,2369.9 L1990.2,2391.9 L2003.9,2411.9 L2017.6,2430.0 L2031.3,2446.3 L2045.0,2461.0 L2058.7,2474.2 L2072.4,2485.9 L2086.1,2496.4 L2099.7,2505.6 L2113.4,2513.8 L2127.1,2521.0 L2140.8,2527.3 L2154.5,2532.8 L2168.2,2537.6 L2181.9,2541.8 L2195.6,2545.4 L2209.3,2548.5 L2223.0,2551.2 L2236.7,2553.5 L2250.3,2555.4 L2264.0,2557.1 L2277.7,2558.5 L2291.4,2559.7 L2305.1,2560.7 L2318.8,2561.5 L2332.5,2562.2 L2346.2,2562.8 L2359.9,2563.3 L2373.6,2563.7 L2387.3,2564.1 L2401.0,2564.3 L2414.6,2564.6 L2428.3,2564.7 L2442.0,2564.9 L2455.7,2565.0 L2469.4,2565.1 L2483.1,2565.2 L2496.8,2565.3 L2510.5,2565.3 L2524.2,2565.3 L2537.9,2565.4 L2551.6,2565.4 L2565.2,2565.4 L2578.9,2565.4 L2592.6,2565.5 L2606.3,2565.5 L2620.0,2565.5 L2633.7,2565.5 L2647.4,2565.5 L2661.1,2565.5 L2674.8,2565.5 L2688.5,2565.5 L2702.2,2565.5 L2715.8,2565.5 L2729.5,2565.5 L2743.2,2565.5 L2756.9,2565.5 L2770.6,2565.5 L2784.3,2565.5 L2798.0,2565.5 L2811.7,2565.5 L2825.4,2565.5 L2839.1,2565.5 L2852.8,2565.5 L2866.5,2565.5 L2880.1,2565.5 L2893.8,2565.5" fill="none" stroke="#F5D300" stroke-opacity="0.027" stroke-width="60.60" stroke-linecap="square" stroke-linejoin="round"/>
<path d="M429.4,2565.1 L443.1,2565.0 L456.8,2564.9 L470.5,2564.7 L484.2,2564.5 L497.9,2564.3 L511.6,2564.0 L525.3,2563.7 L538.9,2563.2 L552.6,2562.7 L566.3,2562.1 L580.0,2561.4 L593.7,2560.5 L607.4,2559.5 L621.1,2558.3 L634.8,2556.9 L648.5,2555.1 L662.2,2553.1 L675.9,2550.8 L689.6,2548.1 L703.2,2544.9 L716.9,2541.2 L730.6,2536.9 L744.3,2532.0 L758.0,2526.4 L771.7,2520.0 L785.4,2512.6 L799.1,2504.3 L812.8,2494.9 L826.5,2484.2 L840.2,2472.3 L853.8,2458.9 L867.5,2444.0 L881.2,2427.4 L894.9,2409.0 L908.6,2388.8 L922.3,2366.5 L936.0,2342.0 L949.7,2315.4 L963.4,2286.4 L977.1,2255.0 L990.8,2221.1 L1004.4,2184.7 L1018.1,2145.7 L1031.8,2104.2 L1045.5,2060.0 L1059.2,2013.4 L1072.9,1964.3 L1086.6,1912.8 L1100.3,1859.0 L1114.0,1803.2 L1127.7,1745.4 L1141.4,1686.0 L1155.1,1625.1 L1168.7,1563.1 L1182.4,1500.2 L1196.1,1436.9 L1209.8,1373.4 L1223.5,1310.2 L1237.2,1247.6 L1250.9,1186.2 L1264.6,1126.3 L1278.3,1068.4 L1292.0,1012.9 L1305.7,960.3 L1319.3,910.9 L1333.0,865.2 L1346.7,823.6 L1360.4,786.3 L1374.1,753.9 L1387.8,726.4 L1401.5,704.3 L1415.2,687.6 L1428.9,676.5 L1442.6,671.2 L1456.3,671.6 L1469.9,677.8 L1483.6,689.7 L1497.3,707.3 L1511.0,730.2 L1524.7,758.4 L1538.4,791.6 L1552.1,829.5 L1565.8,871.8 L1579.5,918.1 L1593.2,968.0 L1606.9,1021.1 L1620.6,1077.0 L1634.2,1135.2 L1647.9,1195.3 L1661.6,1257.0 L1675.3,1319.6 L1689.0,1382.9 L1702.7,1446.4 L1716.4,1509.7 L1730.1,1572.4 L1743.8,1634.3 L1757.5,1695.0 L1771.2,1754.2 L1784.8,1811.7 L1798.5,1867.2 L1812.2,1920.6 L1825.9,1971.8 L1839.6,2020.5 L1853.3,2066.8 L1867.0,2110.6 L1880.7,2151.7 L1894.4,2190.3 L1908.1,2226.4 L1921.8,2259.9 L1935.5,2290.9 L1949.1,2319.5 L1962.8,2345.8 L1976.5,2369.9 L1990.2,2391.9 L2003.9,2411.9 L2017.6,2430.0 L2031.3,2446.3 L2045.0,2461.0 L2058.7,2474.2 L2072.4,2485.9 L2086.1,2496.4 L2099.7,2505.6 L2113.4,2513.8 L2127.1,2521.0 L2140.8,2527.3 L2154.5,2532.8 L2168.2,2537.6 L2181.9,2541.8 L2195.6,2545.4 L2209.3,2548.5 L2223.0,2551.2 L2236.7,2553.5 L2250.3,2555.4 L2264.0,2557.1 L2277.7,2558.5 L2291.4,2559.7 L2305.1,2560.7 L2318.8,2561.5 L2332.5,2562.2 L2346.2,2562.8 L2359.9,2563.3 L2373.6,2563.7 L2387.3,2564.1 L2401.0,2564.3 L2414.6,2564.6 L2428.3,2564.7 L2442.0,2564.9 L2455.7,2565.0 L2469.4,2565.1 L2483.1,2565.2 L2496.8,2565.3 L2510.5,2565.3 L2524.2,2565.3 L2537.9,2565.4 L2551.6,2565.4 L2565.2,2565.4 L2578.9,2565.4 L2592.6,2565.5 L2606.3,2565.5 L2620.0,2565.5 L2633.7,2565.5 L2647.4,2565.5 L2661.1,2565.5 L2674.8,2565.5 L2688.5,2565.5 L2702.2,2565.5 L2715.8,2565.5 L2729.5,2565.5 L2743.2,2565.5 L2756.9,2565.5 L2770.6,2565.5 L2784.3,2565.5 L2798.0,2565.5 L2811.7,2565.5 L2825.4,2565.5 L2839.1,2565.5 L2852.8,2565.5 L2866.5,2565.5 L2880.1,2565.5 L2893.8,2565.5" fill="none" stroke="#F5D300" stroke-opacity="0.027" stroke-width="67.95" stroke-linecap="square" stroke-linejoin="round"/>
<path d="M429.4,2565.1 L443.1,2565.0 L456.8,2564.9 L470.5,2564.7 L484.2,2564.5 L497.9,2564.3 L511.6,2564.0 L525.3,2563.7 L538.9,2563.2 L552.6,2562.7 L566.3,2562.1 L580.0,2561.4 L593.7,2560.5 L607.4,2559.5 L621.1,2558.3 L634.8,2556.9 L648.5,2555.1 L662.2,2553.1 L675.9,2550.8 L689.6,2548.1 L703.2,2544.9 L716.9,2541.2 L730.6,2536.9 L744.3,2532.0 L758.0,2526.4 L771.7,2520.0 L785.4,2512.6 L799.1,2504.3 L812.8,2494.9 L826.5,2484.2 L840.2,2472.3 L853.8,2458.9 L867.5,2444.0 L881.2,2427.4 L894.9,2409.0 L908.6,2388.8 L922.3,2366.5 L936.0,2342.0 L949.7,2315.4 L963.4,2286.4 L977.1,2255.0 L990.8,2221.1 L1004.4,2184.7 L1018.1,2145.7 L1031.8,2104.2 L1045.5,2060.0 L1059.2,2013.4 L1072.9,1964.3 L1086.6,1912.8 L1100.3,1859.0 L1114.0,1803.2 L1127.7,1745.4 L1141.4,1686.0 L1155.1,1625.1 L1168.7,1563.1 L1182.4,1500.2 L1196.1,1436.9 L1209.8,1373.4 L1223.5,1310.2 L1237.2,1247.6 L1250.9,1186.2 L1264.6,1126.3 L1278.3,1068.4 L1292.0,1012.9 L1305.7,960.3 L1319.3,910.9 L1333.0,865.2 L1346.7,823.6 L1360.4,786.3 L1374.1,753.9 L1387.8,726.4 L1401.5,704.3 L1415.2,687.6 L1428.9,676.5 L1442.6,671.2 L1456.3,671.6 L1469.9,677.8 L1483.6,689.7 L1497.3,707.3 L1511.0,730.2 L1524.7,758.4 L1538.4,791.6 L1552.1,829.5 L1565.8,871.8 L1579.5,918.1 L1593.2,968.0 L1606.9,1021.1 L1620.6,1077.0 L1634.2,1135.2 L1647.9,1195.3 L1661.6,1257.0 L1675.3,1319.6 L1689.0,1382.9 L1702.7,1446.4 L1716.4,1509.7 L1730.1,1572.4 L1743.8,1634.3 L1757.5,1695.0 L1771.2,1754.2 L1784.8,1811.7 L1798.5,1867.2 L1812.2,1920.6 L1825.9,1971.8 L1839.6,2020.5 L1853.3,2066.8 L1867.0,2110.6 L1880.7,2151.7 L1894.4,2190.3 L1908.1,2226.4 L1921.8,2259.9 L1935.5,2290.9 L1949.1,2319.5 L1962.8,2345.8 L1976.5,2369.9 L1990.2,2391.9 L2003.9,2411.9 L2017.6,2430.0 L2031.3,2446.3 L2045.0,2461.0 L2058.7,2474.2 L2072.4,2485.9 L2086.1,2496.4 L2099.7,2505.6 L2113.4,2513.8 L2127.1,2521.0 L2140.8,2527.3 L2154.5,2532.8 L2168.2,2537.6 L2181.9,2541.8 L2195.6,2545.4 L2209.3,2548.5 L2223.0,2551.2 L2236.7,2553.5 L2250.3,2555.4 L2264.0,2557.1 L2277.7,2558.5 L2291.4,2559.7 L2305.1,2560.7 L2318.8,2561.5 L2332.5,2562.2 L2346.2,2562.8 L2359.9,2563.3 L2373.6,2563.7 L2387.3,2564.1 L2401.0,2564.3 L2414.6,2564.6 L2428.3,2564.7 L2442.0,2564.9 L2455.7,2565.0 L2469.4,2565.1 L2483.1,2565.2 L2496.8,2565.3 L2510.5,2565.3 L2524.2,2565.3 L2537.9,2565.4 L2551.6,2565.4 L2565.2,2565.4 L2578.9,2565.4 L2592.6,2565.5 L2606.3,2565.5 L2620.0,2565.5 L2633.7,2565.5 L2647.4,2565.5 L2661.1,2565.5 L2674.8,2565.5 L2688.5,2565.5 L2702.2,2565.5 L2715.8,2565.5 L2729.5,2565.5 L2743.2,2565.5 L2756.9,2565.5 L2770.6,2565.5 L2784.3,2565.5 L2798.0,2565.5 L2811.7,2565.5 L2825.4,2565.5 L2839.1,2565.5 L2852.8,2565.5 L2866.5,2565.5 L2880.1,2565.5 L2893.8,2565.5" fill="none" stroke="#F5D300" stroke-opacity="0.027" stroke-width="75.30" stroke-linecap="square" stroke-linejoin="round"/>
<path d="M429.4,2565.1 L443.1,2565.0 L456.8,2564.9 L470.5,2564.7 L484.2,2564.5 L497.9,2564.3 L511.6,2564.0 L525.3,2563.7 L538.9,2563.2 L552.6,2562.7 L566.3,2562.1 L580.0,2561.4 L593.7,2560.5 L607.4,2559.5 L621.1,2558.3 L634.8,2556.9 L648.5,2555.1 L662.2,2553.1 L675.9,2550.8 L689.6,2548.1 L703.2,2544.9 L716.9,2541.2 L730.6,2536.9 L744.3,2532.0 L758.0,2526.4 L771.7,2520.0 L785.4,2512.6 L799.1,2504.3 L812.8,2494.9 L826.5,2484.2 L840.2,2472.3 L853.8,2458.9 L867.5,2444.0 L881.2,2427.4 L894.9,2409.0 L908.6,2388.8 L922.3,2366.5 L936.0,2342.0 L949.7,2315.4 L963.4,2286.4 L977.1,2255.0 L990.8,2221.1 L1004.4,2184.7 L1018.1,2145.7 L1031.8,2104.2 L1045.5,2060.0 L1059.2,2013.4 L1072.9,1964.3 L1086.6,1912.8 L1100.3,1859.0 L1114.0,1803.2 L1127.7,1745.4 L1141.4,1686.0 L1155.1,1625.1 L1168.7,1563.1 L1182.4,1500.2 L1196.1,1436.9 L1209.8,1373.4 L1223.5,1310.2 L1237.2,1247.6 L1250.9,1186.2 L1264.6,1126.3 L1278.3,1068.4 L1292.0,1012.9 L1305.7,960.3 L1319.3,910.9 L1333.0,865.2 L1346.7,823.6 L1360.4,786.3 L1374.1,753.9 L1387.8,726.4 L1401.5,704.3 L1415.2,687.6 L1428.9,676.5 L1442.6,671.2 L1456.3,671.6 L1469.9,677.8 L1483.6,689.7 L1497.3,707.3 L1511.0,730.2 L1524.7,758.4 L1538.4,791.6 L1552.1,829.5 L1565.8,871.8 L1579.5,918.1 L1593.2,968.0 L1606.9,1021.1 L1620.6,1077.0 L1634.2,1135.2 L1647.9,1195.3 L1661.6,1257.0 L1675.3,1319.6 L1689.0,1382.9 L1702.7,1446.4 L1716.4,1509.7 L1730.1,1572.4 L1743.8,1634.3 L1757.5,1695.0 L1771.2,1754.2 L1784.8,1811.7 L1798.5,1867.2 L1812.2,1920.6 L1825.9,1971.8 L1839.6,2020.5 L1853.3,2066.8 L1867.0,2110.6 L1880.7,2151.7 L1894.4,2190.3 L1908.1,2226.4 L1921.8,2259.9 L1935.5,2290.9 L1949.1,2319.5 L1962.8,2345.8 L1976.5,2369.9 L1990.2,2391.9 L2003.9,2411.9 L2017.6,2430.0 L2031.3,2446.3 L2045.0,2461.0 L2058.7,2474.2 L2072.4,2485.9 L2086.1,2496.4 L2099.7,2505.6 L2113.4,2513.8 L2127.1,2521.0 L2140.8,2527.3 L2154.5,2532.8 L2168.2,2537.6 L2181.9,2541.8 L2195.6,2545.4 L2209.3,2548.5 L2223.0,2551.2 L2236.7,2553.5 L2250.3,2555.4 L2264.0,2557.1 L2277.7,2558.5 L2291.4,2559.7 L2305.1,2560.7 L2318.8,2561.5 L2332.5,2562.2 L2346.2,2562.8 L2359.9,2563.3 L2373.6,2563.7 L2387.3,2564.1 L2401.0,2564.3 L2414.6,2564.6 L2428.3,2564.7 L2442.0,2564.9 L2455.7,2565.0 L2469.4,2565.1 L2483.1,2565.2 L2496.8,2565.3 L2510.5,2565.3 L2524.2,2565.3 L2537.9,2565.4 L2551.6,2565.4 L2565.2,2565.4 L2578.9,2565.4 L2592.6,2565.5 L2606.3,2565.5 L2620.0,2565.5 L2633.7,2565.5 L2647.4,2565.5 L2661.1,2565.5 L2674.8,2565.5 L2688.5,2565.5 L2702.2,2565.5 L2715.8,2565.5 L2729.5,2565.5 L2743.2,2565.5 L2756.9,2565.5 L2770.6,2565.5 L2784.3,2565.5 L2798.0,2565.5 L2811.7,2565.5 L2825.4,2565.5 L2839.1,2565.5 L2852.8,2565.5 L2866.5,2565.5 L2880.1,2565.5 L2893.8,2565.5" fill="none" stroke="#F5D300" stroke-opacity="0.027" stroke-width="82.65" stroke-linecap="square" stroke-linejoin="round"/>
<path d="M429.4,2565.1 L443.1,2565.0 L456.8,2564.9 L470.5,2564.7 L484.2,2564.5 L497.9,2564.3 L511.6,2564.0 L525.3,2563.7 L538.9,2563.2 L552.6,2562.7 L566.3,2562.1 L580.0,2561.4 L593.7,2560.5 L607.4,2559.5 L621.1,2558.3 L634.8,2556.9 L648.5,2555.1 L662.2,2553.1 L675.9,2550.8 L689.6,2548.1 L703.2,2544.9 L716.9,2541.2 L730.6,2536.9 L744.3,2532.0 L758.0,2526.4 L771.7,2520.0 L785.4,2512.6 L799.1,2504.3 L812.8,2494.9 L826.5,2484.2 L840.2,2472.3 L853.8,2458.9 L867.5,2444.0 L881.2,2427.4 L894.9,2409.0 L908.6,2388.8 L922.3,2366.5 L936.0,2342.0 L949.7,2315.4 L963.4,2286.4 L977.1,2255.0 L990.8,2221.1 L1004.4,2184.7 L1018.1,2145.7 L1031.8,2104.2 L1045.5,2060.0 L1059.2,2013.4 L1072.9,1964.3 L1086.6,1912.8 L1100.3,1859.0 L1114.0,1803.2 L1127.7,1745.4 L1141.4,1686.0 L1155.1,1625.1 L1168.7,1563.1 L1182.4,1500.2 L1196.1,1436.9 L1209.8,1373.4 L1223.5,1310.2 L1237.2,1247.6 L1250.9,1186.2 L1264.6,1126.3 L1278.3,1068.4 L1292.0,1012.9 L1305.7,960.3 L1319.3,910.9 L1333.0,865.2 L1346.7,823.6 L1360.4,786.3 L1374.1,753.9 L1387.8,726.4 L1401.5,704.3 L1415.2,687.6 L1428.9,676.5 L1442.6,671.2 L1456.3,671.6 L1469.9,677.8 L1483.6,689.7 L1497.3,707.3 L1511.0,730.2 L1524.7,758.4 L1538.4,791.6 L1552.1,829.5 L1565.8,871.8 L1579.5,918.1 L1593.2,968.0 L1606.9,1021.1 L1620.6,1077.0 L1634.2,1135.2 L1647.9,1195.3 L1661.6,1257.0 L1675.3,1319.6 L1689.0,1382.9 L1702.7,1446.4 L1716.4,1509.7 L1730.1,1572.4 L1743.8,1634.3 L1757.5,1695.0 L1771.2,1754.2 L1784.8,1811.7 L1798.5,1867.2 L1812.2,1920.6 L1825.9,1971.8 L1839.6,2020.5 L1853.3,2066.8 L1867.0,2110.6 L1880.7,2151.7 L1894.4,2190.3 L1908.1,2226.4 L1921.8,2259.9 L1935.5,2290.9 L1949.1,2319.5 L1962.8,2345.8 L1976.5,2369.9 L1990.2,2391.9 L2003.9,2411.9 L2017.6,2430.0 L2031.3,2446.3 L2045.0,2461.0 L2058.7,2474.2 L2072.4,2485.9 L2086.1,2496.4 L2099.7,2505.6 L2113.4,2513.8 L2127.1,2521.0 L2140.8,2527.3 L2154.5,2532.8 L2168.2,2537.6 L2181.9,2541.8 L2195.6,2545.4 L2209.3,2548.5 L2223.0,2551.2 L2236.7,2553.5 L2250.3,2555.4 L2264.0,2557.1 L2277.7,2558.5 L2291.4,2559.7 L2305.1,2560.7 L2318.8,2561.5 L2332.5,2562.2 L2346.2,2562.8 L2359.9,2563.3 L2373.6,2563.7 L2387.3,2564.1 L2401.0,2564.3 L2414.6,2564.6 L2428.3,2564.7 L2442.0,2564.9 L2455.7,2565.0 L2469.4,2565.1 L2483.1,2565.2 L2496.8,2565.3 L2510.5,2565.3 L2524.2,2565.3 L2537.9,2565.4 L2551.6,2565.4 L2565.2,2565.4 L2578.9,2565.4 L2592.6,2565.5 L2606.3,2565.5 L2620.0,2565.5 L2633.7,2565.5 L2647.4,2565.5 L2661.1,2565.5 L2674.8,2565.5 L2688.5,2565.5 L2702.2,2565.5 L2715.8,2565.5 L2729.5,2565.5 L2743.2,2565.5 L2756.9,2565.5 L2770.6,2565.5 L2784.3,2565.5 L2798.0,2565.5 L2811.7,2565.5 L2825.4,2565.5 L2839.1,2565.5 L2852.8,2565.5 L2866.5,2565.5 L2880.1,2565.5 L2893.8,2565.5" fill="none" stroke="#F5D300" stroke-opacity="0.027" stroke-width="90.00" stroke-linecap="square" stroke-linejoin="round"/>
</g>
<g filter="url(#softt)" opacity="0.92">
<text x="277.5" y="2609.0" font-size="110" text-anchor="end">0.0</text>
<text x="276.5" y="2266.4" font-size="110" text-anchor="end">0.2</text>
<text x="278" y="1915.3" font-size="110" text-anchor="end">0.4</text>
<text x="278.5" y="1575.8" font-size="110" text-anchor="end">0.6</text>
<text x="279" y="1236.2" font-size="110" text-anchor="end">0.8</text>
<text x="268" y="882.1" font-size="110" text-anchor="end">1.0</text>
<text x="270" y="533.0" font-size="110" text-anchor="end">1.2</text>
<text x="270" y="192.9" font-size="110" text-anchor="end">1.4</text>
<text x="911.8" y="2799" font-size="110" text-anchor="middle">5</text>
<text x="1599.7" y="2799" font-size="110" text-anchor="middle">6</text>
<text x="2281.8" y="2799" font-size="110" text-anchor="middle">7</text>
<text x="2966.3" y="2799" font-size="110" text-anchor="middle">8</text>
<text transform="translate(1660,2931) scale(1.1,1)" font-size="112" font-style="italic" text-anchor="middle">x</text>
<text transform="translate(80,1461) rotate(-90) scale(1.12,1)" font-size="128" text-anchor="middle" font-style="italic">f</text>
<text transform="translate(80,1391) rotate(-90) scale(1.0,1)" font-size="116" text-anchor="middle">(</text>
<text transform="translate(80,1336) rotate(-90) scale(1.15,1)" font-size="116" text-anchor="middle" font-style="italic">x</text>
<text transform="translate(80,1277) rotate(-90) scale(1.0,1)" font-size="116" text-anchor="middle">)</text>
</g>
<rect x="0" y="0" width="3000" height="11" fill="url(#topband)"/>
</svg></body></html>
